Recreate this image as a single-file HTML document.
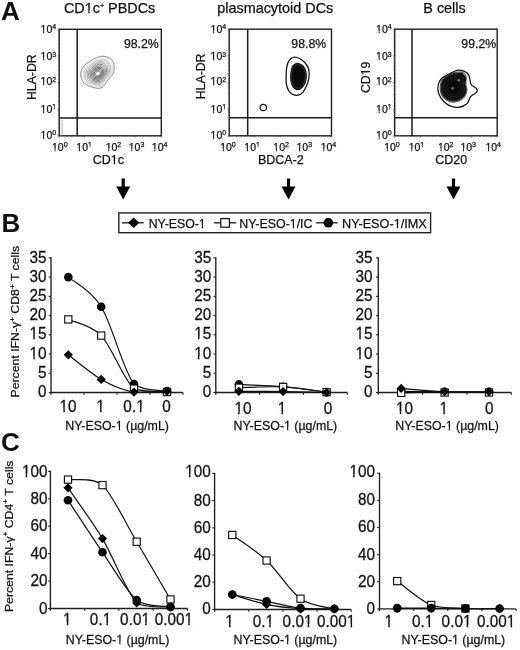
<!DOCTYPE html>
<html><head><meta charset="utf-8"><style>
html,body{margin:0;padding:0;background:#fff;width:520px;height:650px;overflow:hidden}
svg{display:block;filter:grayscale(1)}
text{font-family:"Liberation Sans", sans-serif;fill:#111;stroke:#111;stroke-width:0.25px}
</style></head><body>
<svg width="520" height="650" viewBox="0 0 520 650">
<text x="1.10" y="19.60" font-size="26" text-anchor="start" font-weight="bold" style="stroke:none">A</text>
<text x="1.40" y="231.50" font-size="26" text-anchor="start" font-weight="bold" style="stroke:none">B</text>
<text x="1.00" y="450.50" font-size="26" text-anchor="start" font-weight="bold" style="stroke:none">C</text>
<rect x="59.20" y="29.30" width="102.10" height="106.50" fill="none" stroke="#1e1e1e" stroke-width="1.4"></rect>
<line x1="77.20" y1="29.30" x2="77.20" y2="135.80" stroke="#1a1a1a" stroke-width="1.5"></line>
<line x1="59.20" y1="118.00" x2="161.30" y2="118.00" stroke="#1a1a1a" stroke-width="1.5"></line>
<g><text x="109.60" y="12.50" font-size="14.4" text-anchor="middle" font-weight="normal">CD1c<tspan font-size="7.2" dy="-4.4">+</tspan><tspan dy="4.4"> PBDCs</tspan></text><rect x="85.14" y="10.32" width="3.08" height="3.88" fill="#fff"></rect><rect x="89.69" y="10.32" width="2.96" height="3.88" fill="#fff"></rect></g>
<text x="158.80" y="47.50" font-size="12.3" text-anchor="end" font-weight="normal">98.2%</text>
<g><text x="56.20" y="138.50" font-size="10.5" text-anchor="end">10<tspan font-size="7" dy="-3.4">0</tspan></text><rect x="40.93" y="136.62" width="2.21" height="3.58" fill="#fff"></rect><rect x="44.28" y="136.62" width="2.13" height="3.58" fill="#fff"></rect></g>
<line x1="57.60" y1="135.80" x2="59.20" y2="135.80" stroke="#555" stroke-width="0.9"></line>
<g><text x="56.20" y="112.70" font-size="10.5" text-anchor="end">10<tspan font-size="7" dy="-3.4">1</tspan></text><rect x="40.93" y="110.82" width="2.21" height="3.58" fill="#fff"></rect><rect x="44.28" y="110.82" width="2.13" height="3.58" fill="#fff"></rect><rect x="52.51" y="107.68" width="1.45" height="3.32" fill="#fff"></rect><rect x="54.78" y="107.68" width="1.39" height="3.32" fill="#fff"></rect></g>
<line x1="57.60" y1="109.18" x2="59.20" y2="109.18" stroke="#555" stroke-width="0.9"></line>
<g><text x="56.20" y="85.10" font-size="10.5" text-anchor="end">10<tspan font-size="7" dy="-3.4">2</tspan></text><rect x="40.93" y="83.22" width="2.21" height="3.58" fill="#fff"></rect><rect x="44.28" y="83.22" width="2.13" height="3.58" fill="#fff"></rect></g>
<line x1="57.60" y1="82.55" x2="59.20" y2="82.55" stroke="#555" stroke-width="0.9"></line>
<g><text x="56.20" y="60.00" font-size="10.5" text-anchor="end">10<tspan font-size="7" dy="-3.4">3</tspan></text><rect x="40.93" y="58.12" width="2.21" height="3.58" fill="#fff"></rect><rect x="44.28" y="58.12" width="2.13" height="3.58" fill="#fff"></rect></g>
<line x1="57.60" y1="55.92" x2="59.20" y2="55.92" stroke="#555" stroke-width="0.9"></line>
<g><text x="56.20" y="32.70" font-size="10.5" text-anchor="end">10<tspan font-size="7" dy="-3.4">4</tspan></text><rect x="40.93" y="30.82" width="2.21" height="3.58" fill="#fff"></rect><rect x="44.28" y="30.82" width="2.13" height="3.58" fill="#fff"></rect></g>
<line x1="57.60" y1="29.30" x2="59.20" y2="29.30" stroke="#555" stroke-width="0.9"></line>
<g><text x="51.95" y="150.6" font-size="10.5">10<tspan font-size="7" dy="-3.4">0</tspan></text><rect x="52.28" y="148.72" width="2.21" height="3.58" fill="#fff"></rect><rect x="55.62" y="148.72" width="2.13" height="3.58" fill="#fff"></rect></g>
<line x1="59.20" y1="135.80" x2="59.20" y2="137.40" stroke="#555" stroke-width="0.9"></line>
<g><text x="76.35" y="150.6" font-size="10.5">10<tspan font-size="7" dy="-3.4">1</tspan></text><rect x="76.68" y="148.72" width="2.21" height="3.58" fill="#fff"></rect><rect x="80.02" y="148.72" width="2.13" height="3.58" fill="#fff"></rect><rect x="88.26" y="145.58" width="1.45" height="3.32" fill="#fff"></rect><rect x="90.52" y="145.58" width="1.39" height="3.32" fill="#fff"></rect></g>
<line x1="84.73" y1="135.80" x2="84.73" y2="137.40" stroke="#555" stroke-width="0.9"></line>
<g><text x="105.65" y="150.6" font-size="10.5">10<tspan font-size="7" dy="-3.4">2</tspan></text><rect x="105.98" y="148.72" width="2.21" height="3.58" fill="#fff"></rect><rect x="109.32" y="148.72" width="2.13" height="3.58" fill="#fff"></rect></g>
<line x1="110.25" y1="135.80" x2="110.25" y2="137.40" stroke="#555" stroke-width="0.9"></line>
<g><text x="128.75" y="150.6" font-size="10.5">10<tspan font-size="7" dy="-3.4">3</tspan></text><rect x="129.08" y="148.72" width="2.21" height="3.58" fill="#fff"></rect><rect x="132.42" y="148.72" width="2.13" height="3.58" fill="#fff"></rect></g>
<line x1="135.78" y1="135.80" x2="135.78" y2="137.40" stroke="#555" stroke-width="0.9"></line>
<g><text x="151.85" y="150.6" font-size="10.5">10<tspan font-size="7" dy="-3.4">4</tspan></text><rect x="152.18" y="148.72" width="2.21" height="3.58" fill="#fff"></rect><rect x="155.52" y="148.72" width="2.13" height="3.58" fill="#fff"></rect></g>
<line x1="161.30" y1="135.80" x2="161.30" y2="137.40" stroke="#555" stroke-width="0.9"></line>
<line x1="57.90" y1="127.79" x2="59.20" y2="127.79" stroke="#666" stroke-width="0.7"></line>
<line x1="66.88" y1="135.80" x2="66.88" y2="137.10" stroke="#666" stroke-width="0.7"></line>
<line x1="57.90" y1="123.10" x2="59.20" y2="123.10" stroke="#666" stroke-width="0.7"></line>
<line x1="71.38" y1="135.80" x2="71.38" y2="137.10" stroke="#666" stroke-width="0.7"></line>
<line x1="57.90" y1="119.77" x2="59.20" y2="119.77" stroke="#666" stroke-width="0.7"></line>
<line x1="74.57" y1="135.80" x2="74.57" y2="137.10" stroke="#666" stroke-width="0.7"></line>
<line x1="57.90" y1="117.19" x2="59.20" y2="117.19" stroke="#666" stroke-width="0.7"></line>
<line x1="77.04" y1="135.80" x2="77.04" y2="137.10" stroke="#666" stroke-width="0.7"></line>
<line x1="57.90" y1="115.08" x2="59.20" y2="115.08" stroke="#666" stroke-width="0.7"></line>
<line x1="79.06" y1="135.80" x2="79.06" y2="137.10" stroke="#666" stroke-width="0.7"></line>
<line x1="57.90" y1="113.30" x2="59.20" y2="113.30" stroke="#666" stroke-width="0.7"></line>
<line x1="80.77" y1="135.80" x2="80.77" y2="137.10" stroke="#666" stroke-width="0.7"></line>
<line x1="57.90" y1="111.76" x2="59.20" y2="111.76" stroke="#666" stroke-width="0.7"></line>
<line x1="82.25" y1="135.80" x2="82.25" y2="137.10" stroke="#666" stroke-width="0.7"></line>
<line x1="57.90" y1="110.39" x2="59.20" y2="110.39" stroke="#666" stroke-width="0.7"></line>
<line x1="83.56" y1="135.80" x2="83.56" y2="137.10" stroke="#666" stroke-width="0.7"></line>
<line x1="57.90" y1="101.16" x2="59.20" y2="101.16" stroke="#666" stroke-width="0.7"></line>
<line x1="92.41" y1="135.80" x2="92.41" y2="137.10" stroke="#666" stroke-width="0.7"></line>
<line x1="57.90" y1="96.47" x2="59.20" y2="96.47" stroke="#666" stroke-width="0.7"></line>
<line x1="96.90" y1="135.80" x2="96.90" y2="137.10" stroke="#666" stroke-width="0.7"></line>
<line x1="57.90" y1="93.15" x2="59.20" y2="93.15" stroke="#666" stroke-width="0.7"></line>
<line x1="100.09" y1="135.80" x2="100.09" y2="137.10" stroke="#666" stroke-width="0.7"></line>
<line x1="57.90" y1="90.56" x2="59.20" y2="90.56" stroke="#666" stroke-width="0.7"></line>
<line x1="102.57" y1="135.80" x2="102.57" y2="137.10" stroke="#666" stroke-width="0.7"></line>
<line x1="57.90" y1="88.46" x2="59.20" y2="88.46" stroke="#666" stroke-width="0.7"></line>
<line x1="104.59" y1="135.80" x2="104.59" y2="137.10" stroke="#666" stroke-width="0.7"></line>
<line x1="57.90" y1="86.67" x2="59.20" y2="86.67" stroke="#666" stroke-width="0.7"></line>
<line x1="106.30" y1="135.80" x2="106.30" y2="137.10" stroke="#666" stroke-width="0.7"></line>
<line x1="57.90" y1="85.13" x2="59.20" y2="85.13" stroke="#666" stroke-width="0.7"></line>
<line x1="107.78" y1="135.80" x2="107.78" y2="137.10" stroke="#666" stroke-width="0.7"></line>
<line x1="57.90" y1="83.77" x2="59.20" y2="83.77" stroke="#666" stroke-width="0.7"></line>
<line x1="109.08" y1="135.80" x2="109.08" y2="137.10" stroke="#666" stroke-width="0.7"></line>
<line x1="57.90" y1="74.54" x2="59.20" y2="74.54" stroke="#666" stroke-width="0.7"></line>
<line x1="117.93" y1="135.80" x2="117.93" y2="137.10" stroke="#666" stroke-width="0.7"></line>
<line x1="57.90" y1="69.85" x2="59.20" y2="69.85" stroke="#666" stroke-width="0.7"></line>
<line x1="122.43" y1="135.80" x2="122.43" y2="137.10" stroke="#666" stroke-width="0.7"></line>
<line x1="57.90" y1="66.52" x2="59.20" y2="66.52" stroke="#666" stroke-width="0.7"></line>
<line x1="125.62" y1="135.80" x2="125.62" y2="137.10" stroke="#666" stroke-width="0.7"></line>
<line x1="57.90" y1="63.94" x2="59.20" y2="63.94" stroke="#666" stroke-width="0.7"></line>
<line x1="128.09" y1="135.80" x2="128.09" y2="137.10" stroke="#666" stroke-width="0.7"></line>
<line x1="57.90" y1="61.83" x2="59.20" y2="61.83" stroke="#666" stroke-width="0.7"></line>
<line x1="130.11" y1="135.80" x2="130.11" y2="137.10" stroke="#666" stroke-width="0.7"></line>
<line x1="57.90" y1="60.05" x2="59.20" y2="60.05" stroke="#666" stroke-width="0.7"></line>
<line x1="131.82" y1="135.80" x2="131.82" y2="137.10" stroke="#666" stroke-width="0.7"></line>
<line x1="57.90" y1="58.51" x2="59.20" y2="58.51" stroke="#666" stroke-width="0.7"></line>
<line x1="133.30" y1="135.80" x2="133.30" y2="137.10" stroke="#666" stroke-width="0.7"></line>
<line x1="57.90" y1="57.14" x2="59.20" y2="57.14" stroke="#666" stroke-width="0.7"></line>
<line x1="134.61" y1="135.80" x2="134.61" y2="137.10" stroke="#666" stroke-width="0.7"></line>
<line x1="57.90" y1="47.91" x2="59.20" y2="47.91" stroke="#666" stroke-width="0.7"></line>
<line x1="143.46" y1="135.80" x2="143.46" y2="137.10" stroke="#666" stroke-width="0.7"></line>
<line x1="57.90" y1="43.22" x2="59.20" y2="43.22" stroke="#666" stroke-width="0.7"></line>
<line x1="147.95" y1="135.80" x2="147.95" y2="137.10" stroke="#666" stroke-width="0.7"></line>
<line x1="57.90" y1="39.90" x2="59.20" y2="39.90" stroke="#666" stroke-width="0.7"></line>
<line x1="151.14" y1="135.80" x2="151.14" y2="137.10" stroke="#666" stroke-width="0.7"></line>
<line x1="57.90" y1="37.31" x2="59.20" y2="37.31" stroke="#666" stroke-width="0.7"></line>
<line x1="153.62" y1="135.80" x2="153.62" y2="137.10" stroke="#666" stroke-width="0.7"></line>
<line x1="57.90" y1="35.21" x2="59.20" y2="35.21" stroke="#666" stroke-width="0.7"></line>
<line x1="155.64" y1="135.80" x2="155.64" y2="137.10" stroke="#666" stroke-width="0.7"></line>
<line x1="57.90" y1="33.42" x2="59.20" y2="33.42" stroke="#666" stroke-width="0.7"></line>
<line x1="157.35" y1="135.80" x2="157.35" y2="137.10" stroke="#666" stroke-width="0.7"></line>
<line x1="57.90" y1="31.88" x2="59.20" y2="31.88" stroke="#666" stroke-width="0.7"></line>
<line x1="158.83" y1="135.80" x2="158.83" y2="137.10" stroke="#666" stroke-width="0.7"></line>
<line x1="57.90" y1="30.52" x2="59.20" y2="30.52" stroke="#666" stroke-width="0.7"></line>
<line x1="160.13" y1="135.80" x2="160.13" y2="137.10" stroke="#666" stroke-width="0.7"></line>
<text transform="translate(36.40,77.20) rotate(-90)" font-size="12.3" text-anchor="middle">HLA-DR</text>
<g><text x="108.30" y="163.80" font-size="12.5" text-anchor="middle" font-weight="normal">CD1c</text><rect x="111.10" y="161.76" width="2.66" height="3.74" fill="#fff"></rect><rect x="115.07" y="161.76" width="2.56" height="3.74" fill="#fff"></rect></g>
<rect x="229.20" y="29.20" width="102.30" height="106.60" fill="none" stroke="#1e1e1e" stroke-width="1.4"></rect>
<line x1="247.70" y1="29.20" x2="247.70" y2="135.80" stroke="#1a1a1a" stroke-width="1.5"></line>
<line x1="229.20" y1="117.80" x2="331.50" y2="117.80" stroke="#1a1a1a" stroke-width="1.5"></line>
<text x="275.25" y="12.50" font-size="14.4" text-anchor="middle" font-weight="normal">plasmacytoid DCs</text>
<text x="326.20" y="47.50" font-size="12.3" text-anchor="end" font-weight="normal">98.8%</text>
<g><text x="226.20" y="138.50" font-size="10.5" text-anchor="end">10<tspan font-size="7" dy="-3.4">0</tspan></text><rect x="210.93" y="136.62" width="2.21" height="3.58" fill="#fff"></rect><rect x="214.28" y="136.62" width="2.13" height="3.58" fill="#fff"></rect></g>
<line x1="227.60" y1="135.80" x2="229.20" y2="135.80" stroke="#555" stroke-width="0.9"></line>
<g><text x="226.20" y="112.70" font-size="10.5" text-anchor="end">10<tspan font-size="7" dy="-3.4">1</tspan></text><rect x="210.93" y="110.82" width="2.21" height="3.58" fill="#fff"></rect><rect x="214.28" y="110.82" width="2.13" height="3.58" fill="#fff"></rect><rect x="222.51" y="107.68" width="1.45" height="3.32" fill="#fff"></rect><rect x="224.78" y="107.68" width="1.39" height="3.32" fill="#fff"></rect></g>
<line x1="227.60" y1="109.15" x2="229.20" y2="109.15" stroke="#555" stroke-width="0.9"></line>
<g><text x="226.20" y="85.10" font-size="10.5" text-anchor="end">10<tspan font-size="7" dy="-3.4">2</tspan></text><rect x="210.93" y="83.22" width="2.21" height="3.58" fill="#fff"></rect><rect x="214.28" y="83.22" width="2.13" height="3.58" fill="#fff"></rect></g>
<line x1="227.60" y1="82.50" x2="229.20" y2="82.50" stroke="#555" stroke-width="0.9"></line>
<g><text x="226.20" y="60.00" font-size="10.5" text-anchor="end">10<tspan font-size="7" dy="-3.4">3</tspan></text><rect x="210.93" y="58.12" width="2.21" height="3.58" fill="#fff"></rect><rect x="214.28" y="58.12" width="2.13" height="3.58" fill="#fff"></rect></g>
<line x1="227.60" y1="55.85" x2="229.20" y2="55.85" stroke="#555" stroke-width="0.9"></line>
<g><text x="226.20" y="32.70" font-size="10.5" text-anchor="end">10<tspan font-size="7" dy="-3.4">4</tspan></text><rect x="210.93" y="30.82" width="2.21" height="3.58" fill="#fff"></rect><rect x="214.28" y="30.82" width="2.13" height="3.58" fill="#fff"></rect></g>
<line x1="227.60" y1="29.20" x2="229.20" y2="29.20" stroke="#555" stroke-width="0.9"></line>
<g><text x="220.15" y="150.6" font-size="10.5">10<tspan font-size="7" dy="-3.4">0</tspan></text><rect x="220.48" y="148.72" width="2.21" height="3.58" fill="#fff"></rect><rect x="223.82" y="148.72" width="2.13" height="3.58" fill="#fff"></rect></g>
<line x1="229.20" y1="135.80" x2="229.20" y2="137.40" stroke="#555" stroke-width="0.9"></line>
<g><text x="244.35" y="150.6" font-size="10.5">10<tspan font-size="7" dy="-3.4">1</tspan></text><rect x="244.68" y="148.72" width="2.21" height="3.58" fill="#fff"></rect><rect x="248.02" y="148.72" width="2.13" height="3.58" fill="#fff"></rect><rect x="256.26" y="145.58" width="1.45" height="3.32" fill="#fff"></rect><rect x="258.52" y="145.58" width="1.39" height="3.32" fill="#fff"></rect></g>
<line x1="254.77" y1="135.80" x2="254.77" y2="137.40" stroke="#555" stroke-width="0.9"></line>
<g><text x="273.35" y="150.6" font-size="10.5">10<tspan font-size="7" dy="-3.4">2</tspan></text><rect x="273.68" y="148.72" width="2.21" height="3.58" fill="#fff"></rect><rect x="277.02" y="148.72" width="2.13" height="3.58" fill="#fff"></rect></g>
<line x1="280.35" y1="135.80" x2="280.35" y2="137.40" stroke="#555" stroke-width="0.9"></line>
<g><text x="296.45" y="150.6" font-size="10.5">10<tspan font-size="7" dy="-3.4">3</tspan></text><rect x="296.78" y="148.72" width="2.21" height="3.58" fill="#fff"></rect><rect x="300.12" y="148.72" width="2.13" height="3.58" fill="#fff"></rect></g>
<line x1="305.93" y1="135.80" x2="305.93" y2="137.40" stroke="#555" stroke-width="0.9"></line>
<g><text x="320.65" y="150.6" font-size="10.5">10<tspan font-size="7" dy="-3.4">4</tspan></text><rect x="320.98" y="148.72" width="2.21" height="3.58" fill="#fff"></rect><rect x="324.32" y="148.72" width="2.13" height="3.58" fill="#fff"></rect></g>
<line x1="331.50" y1="135.80" x2="331.50" y2="137.40" stroke="#555" stroke-width="0.9"></line>
<line x1="227.90" y1="127.78" x2="229.20" y2="127.78" stroke="#666" stroke-width="0.7"></line>
<line x1="236.90" y1="135.80" x2="236.90" y2="137.10" stroke="#666" stroke-width="0.7"></line>
<line x1="227.90" y1="123.08" x2="229.20" y2="123.08" stroke="#666" stroke-width="0.7"></line>
<line x1="241.40" y1="135.80" x2="241.40" y2="137.10" stroke="#666" stroke-width="0.7"></line>
<line x1="227.90" y1="119.76" x2="229.20" y2="119.76" stroke="#666" stroke-width="0.7"></line>
<line x1="244.60" y1="135.80" x2="244.60" y2="137.10" stroke="#666" stroke-width="0.7"></line>
<line x1="227.90" y1="117.17" x2="229.20" y2="117.17" stroke="#666" stroke-width="0.7"></line>
<line x1="247.08" y1="135.80" x2="247.08" y2="137.10" stroke="#666" stroke-width="0.7"></line>
<line x1="227.90" y1="115.06" x2="229.20" y2="115.06" stroke="#666" stroke-width="0.7"></line>
<line x1="249.10" y1="135.80" x2="249.10" y2="137.10" stroke="#666" stroke-width="0.7"></line>
<line x1="227.90" y1="113.28" x2="229.20" y2="113.28" stroke="#666" stroke-width="0.7"></line>
<line x1="250.81" y1="135.80" x2="250.81" y2="137.10" stroke="#666" stroke-width="0.7"></line>
<line x1="227.90" y1="111.73" x2="229.20" y2="111.73" stroke="#666" stroke-width="0.7"></line>
<line x1="252.30" y1="135.80" x2="252.30" y2="137.10" stroke="#666" stroke-width="0.7"></line>
<line x1="227.90" y1="110.37" x2="229.20" y2="110.37" stroke="#666" stroke-width="0.7"></line>
<line x1="253.60" y1="135.80" x2="253.60" y2="137.10" stroke="#666" stroke-width="0.7"></line>
<line x1="227.90" y1="101.13" x2="229.20" y2="101.13" stroke="#666" stroke-width="0.7"></line>
<line x1="262.47" y1="135.80" x2="262.47" y2="137.10" stroke="#666" stroke-width="0.7"></line>
<line x1="227.90" y1="96.43" x2="229.20" y2="96.43" stroke="#666" stroke-width="0.7"></line>
<line x1="266.98" y1="135.80" x2="266.98" y2="137.10" stroke="#666" stroke-width="0.7"></line>
<line x1="227.90" y1="93.11" x2="229.20" y2="93.11" stroke="#666" stroke-width="0.7"></line>
<line x1="270.17" y1="135.80" x2="270.17" y2="137.10" stroke="#666" stroke-width="0.7"></line>
<line x1="227.90" y1="90.52" x2="229.20" y2="90.52" stroke="#666" stroke-width="0.7"></line>
<line x1="272.65" y1="135.80" x2="272.65" y2="137.10" stroke="#666" stroke-width="0.7"></line>
<line x1="227.90" y1="88.41" x2="229.20" y2="88.41" stroke="#666" stroke-width="0.7"></line>
<line x1="274.68" y1="135.80" x2="274.68" y2="137.10" stroke="#666" stroke-width="0.7"></line>
<line x1="227.90" y1="86.63" x2="229.20" y2="86.63" stroke="#666" stroke-width="0.7"></line>
<line x1="276.39" y1="135.80" x2="276.39" y2="137.10" stroke="#666" stroke-width="0.7"></line>
<line x1="227.90" y1="85.08" x2="229.20" y2="85.08" stroke="#666" stroke-width="0.7"></line>
<line x1="277.87" y1="135.80" x2="277.87" y2="137.10" stroke="#666" stroke-width="0.7"></line>
<line x1="227.90" y1="83.72" x2="229.20" y2="83.72" stroke="#666" stroke-width="0.7"></line>
<line x1="279.18" y1="135.80" x2="279.18" y2="137.10" stroke="#666" stroke-width="0.7"></line>
<line x1="227.90" y1="74.48" x2="229.20" y2="74.48" stroke="#666" stroke-width="0.7"></line>
<line x1="288.05" y1="135.80" x2="288.05" y2="137.10" stroke="#666" stroke-width="0.7"></line>
<line x1="227.90" y1="69.78" x2="229.20" y2="69.78" stroke="#666" stroke-width="0.7"></line>
<line x1="292.55" y1="135.80" x2="292.55" y2="137.10" stroke="#666" stroke-width="0.7"></line>
<line x1="227.90" y1="66.46" x2="229.20" y2="66.46" stroke="#666" stroke-width="0.7"></line>
<line x1="295.75" y1="135.80" x2="295.75" y2="137.10" stroke="#666" stroke-width="0.7"></line>
<line x1="227.90" y1="63.87" x2="229.20" y2="63.87" stroke="#666" stroke-width="0.7"></line>
<line x1="298.23" y1="135.80" x2="298.23" y2="137.10" stroke="#666" stroke-width="0.7"></line>
<line x1="227.90" y1="61.76" x2="229.20" y2="61.76" stroke="#666" stroke-width="0.7"></line>
<line x1="300.25" y1="135.80" x2="300.25" y2="137.10" stroke="#666" stroke-width="0.7"></line>
<line x1="227.90" y1="59.98" x2="229.20" y2="59.98" stroke="#666" stroke-width="0.7"></line>
<line x1="301.96" y1="135.80" x2="301.96" y2="137.10" stroke="#666" stroke-width="0.7"></line>
<line x1="227.90" y1="58.43" x2="229.20" y2="58.43" stroke="#666" stroke-width="0.7"></line>
<line x1="303.45" y1="135.80" x2="303.45" y2="137.10" stroke="#666" stroke-width="0.7"></line>
<line x1="227.90" y1="57.07" x2="229.20" y2="57.07" stroke="#666" stroke-width="0.7"></line>
<line x1="304.75" y1="135.80" x2="304.75" y2="137.10" stroke="#666" stroke-width="0.7"></line>
<line x1="227.90" y1="47.83" x2="229.20" y2="47.83" stroke="#666" stroke-width="0.7"></line>
<line x1="313.62" y1="135.80" x2="313.62" y2="137.10" stroke="#666" stroke-width="0.7"></line>
<line x1="227.90" y1="43.13" x2="229.20" y2="43.13" stroke="#666" stroke-width="0.7"></line>
<line x1="318.13" y1="135.80" x2="318.13" y2="137.10" stroke="#666" stroke-width="0.7"></line>
<line x1="227.90" y1="39.81" x2="229.20" y2="39.81" stroke="#666" stroke-width="0.7"></line>
<line x1="321.32" y1="135.80" x2="321.32" y2="137.10" stroke="#666" stroke-width="0.7"></line>
<line x1="227.90" y1="37.22" x2="229.20" y2="37.22" stroke="#666" stroke-width="0.7"></line>
<line x1="323.80" y1="135.80" x2="323.80" y2="137.10" stroke="#666" stroke-width="0.7"></line>
<line x1="227.90" y1="35.11" x2="229.20" y2="35.11" stroke="#666" stroke-width="0.7"></line>
<line x1="325.83" y1="135.80" x2="325.83" y2="137.10" stroke="#666" stroke-width="0.7"></line>
<line x1="227.90" y1="33.33" x2="229.20" y2="33.33" stroke="#666" stroke-width="0.7"></line>
<line x1="327.54" y1="135.80" x2="327.54" y2="137.10" stroke="#666" stroke-width="0.7"></line>
<line x1="227.90" y1="31.78" x2="229.20" y2="31.78" stroke="#666" stroke-width="0.7"></line>
<line x1="329.02" y1="135.80" x2="329.02" y2="137.10" stroke="#666" stroke-width="0.7"></line>
<line x1="227.90" y1="30.42" x2="229.20" y2="30.42" stroke="#666" stroke-width="0.7"></line>
<line x1="330.33" y1="135.80" x2="330.33" y2="137.10" stroke="#666" stroke-width="0.7"></line>
<text transform="translate(204.70,76.40) rotate(-90)" font-size="12.3" text-anchor="middle">HLA-DR</text>
<text x="280.80" y="163.80" font-size="12.5" text-anchor="middle" font-weight="normal">BDCA-2</text>
<rect x="394.70" y="29.20" width="102.50" height="106.60" fill="none" stroke="#1e1e1e" stroke-width="1.4"></rect>
<line x1="412.00" y1="29.20" x2="412.00" y2="135.80" stroke="#1a1a1a" stroke-width="1.5"></line>
<line x1="394.70" y1="117.80" x2="497.20" y2="117.80" stroke="#1a1a1a" stroke-width="1.5"></line>
<text x="444.50" y="12.50" font-size="14.4" text-anchor="middle" font-weight="normal">B cells</text>
<text x="496.20" y="47.50" font-size="12.3" text-anchor="end" font-weight="normal">99.2%</text>
<g><text x="391.70" y="138.50" font-size="10.5" text-anchor="end">10<tspan font-size="7" dy="-3.4">0</tspan></text><rect x="376.43" y="136.62" width="2.21" height="3.58" fill="#fff"></rect><rect x="379.78" y="136.62" width="2.13" height="3.58" fill="#fff"></rect></g>
<line x1="393.10" y1="135.80" x2="394.70" y2="135.80" stroke="#555" stroke-width="0.9"></line>
<g><text x="391.70" y="112.70" font-size="10.5" text-anchor="end">10<tspan font-size="7" dy="-3.4">1</tspan></text><rect x="376.43" y="110.82" width="2.21" height="3.58" fill="#fff"></rect><rect x="379.78" y="110.82" width="2.13" height="3.58" fill="#fff"></rect><rect x="388.01" y="107.68" width="1.45" height="3.32" fill="#fff"></rect><rect x="390.28" y="107.68" width="1.39" height="3.32" fill="#fff"></rect></g>
<line x1="393.10" y1="109.15" x2="394.70" y2="109.15" stroke="#555" stroke-width="0.9"></line>
<g><text x="391.70" y="85.10" font-size="10.5" text-anchor="end">10<tspan font-size="7" dy="-3.4">2</tspan></text><rect x="376.43" y="83.22" width="2.21" height="3.58" fill="#fff"></rect><rect x="379.78" y="83.22" width="2.13" height="3.58" fill="#fff"></rect></g>
<line x1="393.10" y1="82.50" x2="394.70" y2="82.50" stroke="#555" stroke-width="0.9"></line>
<g><text x="391.70" y="60.00" font-size="10.5" text-anchor="end">10<tspan font-size="7" dy="-3.4">3</tspan></text><rect x="376.43" y="58.12" width="2.21" height="3.58" fill="#fff"></rect><rect x="379.78" y="58.12" width="2.13" height="3.58" fill="#fff"></rect></g>
<line x1="393.10" y1="55.85" x2="394.70" y2="55.85" stroke="#555" stroke-width="0.9"></line>
<g><text x="391.70" y="32.70" font-size="10.5" text-anchor="end">10<tspan font-size="7" dy="-3.4">4</tspan></text><rect x="376.43" y="30.82" width="2.21" height="3.58" fill="#fff"></rect><rect x="379.78" y="30.82" width="2.13" height="3.58" fill="#fff"></rect></g>
<line x1="393.10" y1="29.20" x2="394.70" y2="29.20" stroke="#555" stroke-width="0.9"></line>
<g><text x="384.15" y="150.6" font-size="10.5">10<tspan font-size="7" dy="-3.4">0</tspan></text><rect x="384.48" y="148.72" width="2.21" height="3.58" fill="#fff"></rect><rect x="387.82" y="148.72" width="2.13" height="3.58" fill="#fff"></rect></g>
<line x1="394.70" y1="135.80" x2="394.70" y2="137.40" stroke="#555" stroke-width="0.9"></line>
<g><text x="408.65" y="150.6" font-size="10.5">10<tspan font-size="7" dy="-3.4">1</tspan></text><rect x="408.98" y="148.72" width="2.21" height="3.58" fill="#fff"></rect><rect x="412.32" y="148.72" width="2.13" height="3.58" fill="#fff"></rect><rect x="420.56" y="145.58" width="1.45" height="3.32" fill="#fff"></rect><rect x="422.82" y="145.58" width="1.39" height="3.32" fill="#fff"></rect></g>
<line x1="420.32" y1="135.80" x2="420.32" y2="137.40" stroke="#555" stroke-width="0.9"></line>
<g><text x="437.90" y="150.6" font-size="10.5">10<tspan font-size="7" dy="-3.4">2</tspan></text><rect x="438.23" y="148.72" width="2.21" height="3.58" fill="#fff"></rect><rect x="441.57" y="148.72" width="2.13" height="3.58" fill="#fff"></rect></g>
<line x1="445.95" y1="135.80" x2="445.95" y2="137.40" stroke="#555" stroke-width="0.9"></line>
<g><text x="460.40" y="150.6" font-size="10.5">10<tspan font-size="7" dy="-3.4">3</tspan></text><rect x="460.73" y="148.72" width="2.21" height="3.58" fill="#fff"></rect><rect x="464.07" y="148.72" width="2.13" height="3.58" fill="#fff"></rect></g>
<line x1="471.57" y1="135.80" x2="471.57" y2="137.40" stroke="#555" stroke-width="0.9"></line>
<g><text x="485.40" y="150.6" font-size="10.5">10<tspan font-size="7" dy="-3.4">4</tspan></text><rect x="485.73" y="148.72" width="2.21" height="3.58" fill="#fff"></rect><rect x="489.07" y="148.72" width="2.13" height="3.58" fill="#fff"></rect></g>
<line x1="497.20" y1="135.80" x2="497.20" y2="137.40" stroke="#555" stroke-width="0.9"></line>
<line x1="393.40" y1="127.78" x2="394.70" y2="127.78" stroke="#666" stroke-width="0.7"></line>
<line x1="402.41" y1="135.80" x2="402.41" y2="137.10" stroke="#666" stroke-width="0.7"></line>
<line x1="393.40" y1="123.08" x2="394.70" y2="123.08" stroke="#666" stroke-width="0.7"></line>
<line x1="406.93" y1="135.80" x2="406.93" y2="137.10" stroke="#666" stroke-width="0.7"></line>
<line x1="393.40" y1="119.76" x2="394.70" y2="119.76" stroke="#666" stroke-width="0.7"></line>
<line x1="410.13" y1="135.80" x2="410.13" y2="137.10" stroke="#666" stroke-width="0.7"></line>
<line x1="393.40" y1="117.17" x2="394.70" y2="117.17" stroke="#666" stroke-width="0.7"></line>
<line x1="412.61" y1="135.80" x2="412.61" y2="137.10" stroke="#666" stroke-width="0.7"></line>
<line x1="393.40" y1="115.06" x2="394.70" y2="115.06" stroke="#666" stroke-width="0.7"></line>
<line x1="414.64" y1="135.80" x2="414.64" y2="137.10" stroke="#666" stroke-width="0.7"></line>
<line x1="393.40" y1="113.28" x2="394.70" y2="113.28" stroke="#666" stroke-width="0.7"></line>
<line x1="416.36" y1="135.80" x2="416.36" y2="137.10" stroke="#666" stroke-width="0.7"></line>
<line x1="393.40" y1="111.73" x2="394.70" y2="111.73" stroke="#666" stroke-width="0.7"></line>
<line x1="417.84" y1="135.80" x2="417.84" y2="137.10" stroke="#666" stroke-width="0.7"></line>
<line x1="393.40" y1="110.37" x2="394.70" y2="110.37" stroke="#666" stroke-width="0.7"></line>
<line x1="419.15" y1="135.80" x2="419.15" y2="137.10" stroke="#666" stroke-width="0.7"></line>
<line x1="393.40" y1="101.13" x2="394.70" y2="101.13" stroke="#666" stroke-width="0.7"></line>
<line x1="428.04" y1="135.80" x2="428.04" y2="137.10" stroke="#666" stroke-width="0.7"></line>
<line x1="393.40" y1="96.43" x2="394.70" y2="96.43" stroke="#666" stroke-width="0.7"></line>
<line x1="432.55" y1="135.80" x2="432.55" y2="137.10" stroke="#666" stroke-width="0.7"></line>
<line x1="393.40" y1="93.11" x2="394.70" y2="93.11" stroke="#666" stroke-width="0.7"></line>
<line x1="435.75" y1="135.80" x2="435.75" y2="137.10" stroke="#666" stroke-width="0.7"></line>
<line x1="393.40" y1="90.52" x2="394.70" y2="90.52" stroke="#666" stroke-width="0.7"></line>
<line x1="438.24" y1="135.80" x2="438.24" y2="137.10" stroke="#666" stroke-width="0.7"></line>
<line x1="393.40" y1="88.41" x2="394.70" y2="88.41" stroke="#666" stroke-width="0.7"></line>
<line x1="440.27" y1="135.80" x2="440.27" y2="137.10" stroke="#666" stroke-width="0.7"></line>
<line x1="393.40" y1="86.63" x2="394.70" y2="86.63" stroke="#666" stroke-width="0.7"></line>
<line x1="441.98" y1="135.80" x2="441.98" y2="137.10" stroke="#666" stroke-width="0.7"></line>
<line x1="393.40" y1="85.08" x2="394.70" y2="85.08" stroke="#666" stroke-width="0.7"></line>
<line x1="443.47" y1="135.80" x2="443.47" y2="137.10" stroke="#666" stroke-width="0.7"></line>
<line x1="393.40" y1="83.72" x2="394.70" y2="83.72" stroke="#666" stroke-width="0.7"></line>
<line x1="444.78" y1="135.80" x2="444.78" y2="137.10" stroke="#666" stroke-width="0.7"></line>
<line x1="393.40" y1="74.48" x2="394.70" y2="74.48" stroke="#666" stroke-width="0.7"></line>
<line x1="453.66" y1="135.80" x2="453.66" y2="137.10" stroke="#666" stroke-width="0.7"></line>
<line x1="393.40" y1="69.78" x2="394.70" y2="69.78" stroke="#666" stroke-width="0.7"></line>
<line x1="458.18" y1="135.80" x2="458.18" y2="137.10" stroke="#666" stroke-width="0.7"></line>
<line x1="393.40" y1="66.46" x2="394.70" y2="66.46" stroke="#666" stroke-width="0.7"></line>
<line x1="461.38" y1="135.80" x2="461.38" y2="137.10" stroke="#666" stroke-width="0.7"></line>
<line x1="393.40" y1="63.87" x2="394.70" y2="63.87" stroke="#666" stroke-width="0.7"></line>
<line x1="463.86" y1="135.80" x2="463.86" y2="137.10" stroke="#666" stroke-width="0.7"></line>
<line x1="393.40" y1="61.76" x2="394.70" y2="61.76" stroke="#666" stroke-width="0.7"></line>
<line x1="465.89" y1="135.80" x2="465.89" y2="137.10" stroke="#666" stroke-width="0.7"></line>
<line x1="393.40" y1="59.98" x2="394.70" y2="59.98" stroke="#666" stroke-width="0.7"></line>
<line x1="467.61" y1="135.80" x2="467.61" y2="137.10" stroke="#666" stroke-width="0.7"></line>
<line x1="393.40" y1="58.43" x2="394.70" y2="58.43" stroke="#666" stroke-width="0.7"></line>
<line x1="469.09" y1="135.80" x2="469.09" y2="137.10" stroke="#666" stroke-width="0.7"></line>
<line x1="393.40" y1="57.07" x2="394.70" y2="57.07" stroke="#666" stroke-width="0.7"></line>
<line x1="470.40" y1="135.80" x2="470.40" y2="137.10" stroke="#666" stroke-width="0.7"></line>
<line x1="393.40" y1="47.83" x2="394.70" y2="47.83" stroke="#666" stroke-width="0.7"></line>
<line x1="479.29" y1="135.80" x2="479.29" y2="137.10" stroke="#666" stroke-width="0.7"></line>
<line x1="393.40" y1="43.13" x2="394.70" y2="43.13" stroke="#666" stroke-width="0.7"></line>
<line x1="483.80" y1="135.80" x2="483.80" y2="137.10" stroke="#666" stroke-width="0.7"></line>
<line x1="393.40" y1="39.81" x2="394.70" y2="39.81" stroke="#666" stroke-width="0.7"></line>
<line x1="487.00" y1="135.80" x2="487.00" y2="137.10" stroke="#666" stroke-width="0.7"></line>
<line x1="393.40" y1="37.22" x2="394.70" y2="37.22" stroke="#666" stroke-width="0.7"></line>
<line x1="489.49" y1="135.80" x2="489.49" y2="137.10" stroke="#666" stroke-width="0.7"></line>
<line x1="393.40" y1="35.11" x2="394.70" y2="35.11" stroke="#666" stroke-width="0.7"></line>
<line x1="491.52" y1="135.80" x2="491.52" y2="137.10" stroke="#666" stroke-width="0.7"></line>
<line x1="393.40" y1="33.33" x2="394.70" y2="33.33" stroke="#666" stroke-width="0.7"></line>
<line x1="493.23" y1="135.80" x2="493.23" y2="137.10" stroke="#666" stroke-width="0.7"></line>
<line x1="393.40" y1="31.78" x2="394.70" y2="31.78" stroke="#666" stroke-width="0.7"></line>
<line x1="494.72" y1="135.80" x2="494.72" y2="137.10" stroke="#666" stroke-width="0.7"></line>
<line x1="393.40" y1="30.42" x2="394.70" y2="30.42" stroke="#666" stroke-width="0.7"></line>
<line x1="496.03" y1="135.80" x2="496.03" y2="137.10" stroke="#666" stroke-width="0.7"></line>
<g transform="translate(370.40,77.30) rotate(-90)"><text font-size="12.3" text-anchor="middle">CD19</text><rect x="2.41" y="-2.02" width="2.62" height="3.72" fill="#fff"></rect><rect x="6.31" y="-2.02" width="2.52" height="3.72" fill="#fff"></rect></g>
<text x="451.20" y="163.80" font-size="12.5" text-anchor="middle" font-weight="normal">CD20</text>
<path d="M103.85,56.25 C105.52,56.35 107.29,56.86 108.65,57.50 C110.01,58.14 111.12,58.95 112.00,60.10 C112.88,61.25 113.53,62.88 113.90,64.40 C114.27,65.92 114.35,67.67 114.20,69.20 C114.05,70.73 113.68,72.23 113.00,73.60 C112.32,74.97 111.07,76.20 110.10,77.40 C109.13,78.60 108.08,79.60 107.20,80.80 C106.32,82.00 105.68,83.48 104.80,84.60 C103.92,85.72 103.10,86.88 101.90,87.50 C100.70,88.12 99.28,88.38 97.60,88.30 C95.92,88.22 93.65,87.58 91.80,87.00 C89.95,86.42 88.02,85.76 86.50,84.80 C84.98,83.84 83.65,82.72 82.70,81.25 C81.75,79.78 81.04,77.76 80.80,76.00 C80.56,74.24 80.70,72.38 81.25,70.70 C81.80,69.02 82.89,67.35 84.10,65.90 C85.31,64.45 86.97,63.13 88.50,62.00 C90.03,60.87 91.62,59.95 93.30,59.10 C94.98,58.25 96.84,57.38 98.60,56.90 C100.36,56.42 102.17,56.15 103.85,56.25Z" fill="none" stroke="#7c7c7c" stroke-width="0.9"></path>
<path d="M103.27,57.95 C104.77,58.03 106.36,58.49 107.59,59.07 C108.81,59.65 109.81,60.38 110.60,61.41 C111.39,62.45 111.98,63.91 112.31,65.28 C112.64,66.64 112.72,68.22 112.58,69.60 C112.44,70.98 112.11,72.33 111.50,73.56 C110.89,74.79 109.76,75.90 108.89,76.98 C108.02,78.06 107.08,78.96 106.28,80.04 C105.48,81.12 104.92,82.45 104.12,83.46 C103.33,84.46 102.59,85.51 101.51,86.07 C100.43,86.62 99.16,86.86 97.64,86.79 C96.12,86.71 94.09,86.15 92.42,85.62 C90.75,85.09 89.02,84.50 87.65,83.64 C86.29,82.78 85.09,81.76 84.23,80.44 C83.38,79.12 82.74,77.30 82.52,75.72 C82.30,74.14 82.43,72.47 82.92,70.95 C83.42,69.44 84.40,67.94 85.49,66.63 C86.58,65.33 88.07,64.14 89.45,63.12 C90.83,62.10 92.25,61.28 93.77,60.51 C95.28,59.75 96.96,58.96 98.54,58.53 C100.12,58.10 101.76,57.86 103.27,57.95Z" fill="none" stroke="#c4c4c4" stroke-width="0.6"></path>
<path d="M102.64,59.76 C103.98,59.84 105.39,60.25 106.48,60.76 C107.57,61.27 108.46,61.92 109.16,62.84 C109.86,63.76 110.39,65.07 110.68,66.28 C110.97,67.49 111.04,68.89 110.92,70.12 C110.80,71.35 110.51,72.55 109.96,73.64 C109.41,74.73 108.41,75.72 107.64,76.68 C106.87,77.64 106.03,78.44 105.32,79.40 C104.61,80.36 104.11,81.55 103.40,82.44 C102.69,83.33 102.04,84.27 101.08,84.76 C100.12,85.25 98.99,85.47 97.64,85.40 C96.29,85.33 94.48,84.83 93.00,84.36 C91.52,83.89 89.97,83.37 88.76,82.60 C87.55,81.83 86.48,80.93 85.72,79.76 C84.96,78.59 84.39,76.97 84.20,75.56 C84.01,74.15 84.12,72.67 84.56,71.32 C85.00,69.97 85.87,68.64 86.84,67.48 C87.81,66.32 89.13,65.27 90.36,64.36 C91.59,63.45 92.85,62.72 94.20,62.04 C95.55,61.36 97.03,60.66 98.44,60.28 C99.85,59.90 101.30,59.68 102.64,59.76Z" fill="none" stroke="#a0a0a0" stroke-width="0.7"></path>
<path d="M102.10,61.34 C103.28,61.41 104.54,61.77 105.50,62.23 C106.47,62.68 107.26,63.26 107.88,64.07 C108.50,64.89 108.97,66.05 109.23,67.13 C109.49,68.20 109.55,69.45 109.44,70.53 C109.34,71.62 109.08,72.69 108.59,73.66 C108.11,74.63 107.22,75.50 106.53,76.36 C105.85,77.21 105.10,77.92 104.47,78.77 C103.85,79.62 103.40,80.68 102.77,81.47 C102.14,82.26 101.56,83.09 100.71,83.53 C99.86,83.96 98.85,84.15 97.66,84.09 C96.46,84.04 94.85,83.59 93.54,83.17 C92.23,82.76 90.85,82.29 89.78,81.61 C88.70,80.93 87.75,80.13 87.08,79.09 C86.40,78.05 85.90,76.61 85.73,75.36 C85.56,74.11 85.66,72.79 86.05,71.60 C86.44,70.40 87.22,69.22 88.07,68.19 C88.93,67.16 90.11,66.23 91.20,65.42 C92.29,64.62 93.41,63.97 94.61,63.36 C95.80,62.76 97.12,62.14 98.37,61.80 C99.62,61.46 100.91,61.27 102.10,61.34Z" fill="none" stroke="#909090" stroke-width="0.75"></path>
<path d="M101.55,62.92 C102.59,62.98 103.68,63.30 104.53,63.69 C105.37,64.09 106.06,64.59 106.60,65.31 C107.15,66.02 107.55,67.03 107.78,67.97 C108.01,68.91 108.06,70.00 107.97,70.95 C107.88,71.90 107.65,72.83 107.22,73.68 C106.80,74.52 106.03,75.29 105.43,76.03 C104.83,76.78 104.18,77.40 103.63,78.14 C103.08,78.88 102.69,79.80 102.14,80.50 C101.59,81.19 101.09,81.91 100.34,82.29 C99.60,82.68 98.72,82.84 97.68,82.79 C96.63,82.74 95.23,82.35 94.08,81.98 C92.93,81.62 91.73,81.21 90.79,80.62 C89.85,80.03 89.03,79.33 88.44,78.42 C87.85,77.51 87.41,76.25 87.26,75.16 C87.11,74.07 87.20,72.92 87.54,71.88 C87.88,70.83 88.56,69.80 89.31,68.90 C90.06,68.00 91.08,67.19 92.03,66.48 C92.98,65.78 93.97,65.21 95.01,64.69 C96.05,64.16 97.21,63.62 98.30,63.32 C99.39,63.03 100.51,62.86 101.55,62.92Z" fill="none" stroke="#808080" stroke-width="0.8"></path>
<path d="M101.07,64.32 C101.97,64.38 102.93,64.65 103.66,65.00 C104.39,65.34 105.00,65.78 105.47,66.40 C105.94,67.02 106.30,67.91 106.49,68.72 C106.69,69.54 106.74,70.49 106.66,71.32 C106.58,72.14 106.38,72.95 106.01,73.69 C105.64,74.43 104.96,75.10 104.44,75.74 C103.92,76.39 103.35,76.93 102.88,77.58 C102.40,78.23 102.06,79.03 101.58,79.63 C101.10,80.23 100.66,80.86 100.01,81.20 C99.37,81.53 98.60,81.67 97.69,81.63 C96.78,81.58 95.56,81.24 94.56,80.93 C93.56,80.61 92.52,80.26 91.70,79.74 C90.88,79.22 90.16,78.61 89.65,77.82 C89.13,77.03 88.75,75.94 88.62,74.99 C88.49,74.04 88.57,73.03 88.86,72.13 C89.16,71.22 89.75,70.32 90.40,69.53 C91.05,68.75 91.95,68.04 92.78,67.43 C93.61,66.82 94.46,66.32 95.37,65.86 C96.28,65.40 97.28,64.93 98.23,64.67 C99.18,64.42 100.16,64.27 101.07,64.32Z" fill="none" stroke="#707070" stroke-width="0.85"></path>
<path d="M100.58,65.73 C101.35,65.77 102.17,66.01 102.79,66.30 C103.42,66.60 103.93,66.97 104.33,67.50 C104.73,68.03 105.04,68.78 105.21,69.48 C105.37,70.17 105.41,70.98 105.34,71.68 C105.27,72.39 105.11,73.08 104.79,73.71 C104.48,74.34 103.90,74.90 103.46,75.46 C103.01,76.01 102.53,76.47 102.12,77.02 C101.72,77.57 101.43,78.25 101.02,78.77 C100.61,79.28 100.24,79.82 99.69,80.10 C99.13,80.39 98.48,80.51 97.71,80.47 C96.93,80.43 95.89,80.14 95.04,79.87 C94.19,79.60 93.30,79.30 92.60,78.86 C91.90,78.42 91.29,77.90 90.85,77.23 C90.42,76.55 90.09,75.62 89.98,74.81 C89.87,74.00 89.93,73.15 90.19,72.37 C90.44,71.60 90.94,70.83 91.50,70.17 C92.05,69.50 92.82,68.89 93.52,68.37 C94.23,67.85 94.96,67.43 95.73,67.04 C96.50,66.65 97.36,66.24 98.17,66.03 C98.98,65.81 99.81,65.68 100.58,65.73Z" fill="none" stroke="#606060" stroke-width="0.9"></path>
<path d="M100.10,67.13 C100.74,67.17 101.41,67.36 101.92,67.61 C102.44,67.85 102.86,68.16 103.20,68.59 C103.53,69.03 103.78,69.65 103.92,70.23 C104.06,70.80 104.09,71.47 104.03,72.05 C103.97,72.63 103.84,73.20 103.58,73.72 C103.32,74.24 102.84,74.71 102.47,75.17 C102.11,75.62 101.71,76.00 101.37,76.46 C101.04,76.92 100.80,77.48 100.46,77.90 C100.12,78.33 99.81,78.77 99.36,79.01 C98.90,79.24 98.36,79.34 97.72,79.31 C97.08,79.28 96.22,79.04 95.52,78.82 C94.82,78.59 94.08,78.34 93.51,77.98 C92.93,77.62 92.42,77.19 92.06,76.63 C91.70,76.07 91.43,75.30 91.34,74.64 C91.25,73.97 91.30,73.26 91.51,72.62 C91.72,71.98 92.13,71.35 92.59,70.80 C93.05,70.25 93.68,69.75 94.27,69.32 C94.85,68.89 95.45,68.54 96.09,68.21 C96.73,67.89 97.44,67.56 98.10,67.38 C98.77,67.20 99.46,67.09 100.10,67.13Z" fill="none" stroke="#505050" stroke-width="0.95"></path>
<path d="M99.61,68.53 C100.12,68.56 100.65,68.72 101.06,68.91 C101.46,69.10 101.80,69.34 102.06,69.69 C102.32,70.03 102.52,70.53 102.63,70.98 C102.74,71.44 102.77,71.96 102.72,72.42 C102.67,72.88 102.56,73.33 102.36,73.74 C102.16,74.15 101.78,74.52 101.49,74.88 C101.20,75.24 100.89,75.54 100.62,75.90 C100.36,76.26 100.16,76.70 99.90,77.04 C99.63,77.38 99.39,77.72 99.03,77.91 C98.67,78.09 98.24,78.17 97.74,78.15 C97.23,78.12 96.56,77.93 96.00,77.76 C95.44,77.58 94.86,77.39 94.41,77.10 C93.95,76.81 93.55,76.47 93.27,76.03 C92.98,75.59 92.77,74.99 92.70,74.46 C92.63,73.93 92.67,73.38 92.83,72.87 C93.00,72.37 93.33,71.87 93.69,71.43 C94.05,71.00 94.55,70.60 95.01,70.26 C95.47,69.92 95.95,69.64 96.45,69.39 C96.95,69.14 97.51,68.87 98.04,68.73 C98.57,68.59 99.11,68.50 99.61,68.53Z" fill="none" stroke="#484848" stroke-width="1.0"></path>
<path d="M99.13,69.94 C99.50,69.96 99.89,70.07 100.19,70.21 C100.49,70.36 100.73,70.53 100.92,70.79 C101.12,71.04 101.26,71.40 101.34,71.73 C101.42,72.07 101.44,72.45 101.41,72.79 C101.38,73.13 101.29,73.46 101.14,73.76 C100.99,74.06 100.72,74.33 100.51,74.59 C100.29,74.86 100.06,75.08 99.87,75.34 C99.67,75.60 99.53,75.93 99.34,76.18 C99.15,76.42 98.97,76.68 98.70,76.81 C98.44,76.95 98.13,77.01 97.76,76.99 C97.39,76.97 96.89,76.83 96.48,76.70 C96.07,76.58 95.65,76.43 95.31,76.22 C94.98,76.01 94.69,75.76 94.48,75.44 C94.27,75.12 94.11,74.67 94.06,74.28 C94.01,73.90 94.04,73.49 94.16,73.12 C94.28,72.75 94.52,72.38 94.79,72.06 C95.05,71.74 95.42,71.45 95.75,71.20 C96.09,70.95 96.44,70.75 96.81,70.57 C97.18,70.38 97.59,70.19 97.98,70.08 C98.36,69.98 98.76,69.92 99.13,69.94Z" fill="none" stroke="#4a4a4a" stroke-width="1.0"></path>
<path d="M98.65,71.34 C98.88,71.36 99.13,71.43 99.32,71.52 C99.51,71.61 99.67,71.72 99.79,71.88 C99.91,72.04 100.00,72.27 100.05,72.48 C100.11,72.70 100.12,72.94 100.10,73.16 C100.08,73.37 100.02,73.58 99.93,73.77 C99.83,73.96 99.66,74.14 99.52,74.30 C99.39,74.47 99.24,74.61 99.12,74.78 C98.99,74.95 98.90,75.16 98.78,75.31 C98.66,75.47 98.54,75.63 98.37,75.72 C98.21,75.80 98.01,75.84 97.77,75.83 C97.54,75.82 97.22,75.73 96.96,75.65 C96.70,75.57 96.43,75.47 96.22,75.34 C96.01,75.21 95.82,75.05 95.69,74.84 C95.55,74.64 95.45,74.35 95.42,74.11 C95.39,73.86 95.41,73.60 95.48,73.37 C95.56,73.13 95.71,72.90 95.88,72.69 C96.05,72.49 96.28,72.31 96.50,72.15 C96.71,71.99 96.93,71.86 97.17,71.74 C97.41,71.62 97.67,71.50 97.91,71.43 C98.16,71.37 98.41,71.33 98.65,71.34Z" fill="none" stroke="#606060" stroke-width="0.9"></path>
<ellipse cx="98.2" cy="73.39999999999999" rx="1.3" ry="0.9" transform="rotate(-32 97.8 73.8)" fill="#f0f0f0"></ellipse>
<rect x="60.3" y="119.8" width="2.4" height="15.4" fill="#ececec"></rect>
<line x1="62.20" y1="120.00" x2="62.20" y2="135.00" stroke="#aaa" stroke-width="0.7"></line>
<path d="M294.70,57.20 C296.22,57.20 298.32,57.82 300.00,58.70 C301.68,59.58 303.43,60.98 304.80,62.50 C306.17,64.02 307.48,66.03 308.20,67.80 C308.92,69.57 309.02,71.27 309.10,73.10 C309.18,74.93 309.10,76.72 308.70,78.80 C308.30,80.88 307.67,83.35 306.70,85.60 C305.73,87.85 304.33,90.70 302.90,92.30 C301.47,93.90 299.87,94.88 298.10,95.20 C296.33,95.52 293.90,95.00 292.30,94.20 C290.70,93.40 289.50,92.15 288.50,90.40 C287.50,88.65 286.70,85.95 286.30,83.70 C285.90,81.45 286.07,79.32 286.10,76.90 C286.13,74.48 286.18,71.60 286.50,69.20 C286.82,66.80 287.27,64.25 288.00,62.50 C288.73,60.75 289.78,59.58 290.90,58.70 C292.02,57.82 293.18,57.20 294.70,57.20Z" fill="none" stroke="#111" stroke-width="1.25"></path>
<path d="M298.10,63.50 C299.38,63.83 301.62,64.62 302.90,65.90 C304.18,67.18 305.24,69.20 305.80,71.20 C306.36,73.20 306.50,75.67 306.25,77.90 C306.00,80.13 305.26,82.77 304.30,84.60 C303.34,86.43 301.85,88.10 300.50,88.90 C299.15,89.70 297.48,89.80 296.20,89.40 C294.92,89.00 293.68,87.93 292.80,86.50 C291.92,85.07 291.22,83.03 290.90,80.80 C290.58,78.57 290.67,75.43 290.90,73.10 C291.13,70.77 291.58,68.33 292.30,66.80 C293.02,65.27 294.23,64.45 295.20,63.90 C296.17,63.35 296.82,63.17 298.10,63.50Z" fill="#0a0a0a" stroke="#111" stroke-width="1.1"></path>
<path d="M298.12,65.06 C299.25,65.35 301.22,66.04 302.35,67.17 C303.48,68.30 304.41,70.08 304.90,71.84 C305.39,73.60 305.52,75.77 305.30,77.73 C305.08,79.70 304.42,82.01 303.58,83.63 C302.74,85.24 301.42,86.71 300.24,87.41 C299.05,88.12 297.58,88.20 296.45,87.85 C295.32,87.50 294.24,86.56 293.46,85.30 C292.68,84.04 292.07,82.25 291.79,80.28 C291.51,78.32 291.58,75.56 291.79,73.51 C291.99,71.45 292.39,69.31 293.02,67.96 C293.65,66.61 294.72,65.90 295.57,65.41 C296.42,64.93 296.99,64.77 298.12,65.06Z" fill="none" stroke="#555" stroke-width="0.6"></path>
<circle cx="263.3" cy="107.5" r="3.2" fill="none" stroke="#111" stroke-width="1.2"></circle>
<path d="M458.80,70.20 C460.73,70.30 464.07,71.10 465.80,72.10 C467.53,73.10 468.33,74.18 469.20,76.20 C470.07,78.22 469.83,82.18 471.00,84.20 C472.17,86.22 475.15,87.13 476.20,88.30 C477.25,89.47 477.50,90.33 477.30,91.20 C477.10,92.07 476.15,92.55 475.00,93.50 C473.85,94.45 471.75,95.18 470.40,96.90 C469.05,98.62 468.83,102.07 466.90,103.80 C464.97,105.53 461.48,106.90 458.80,107.30 C456.12,107.70 453.30,107.17 450.80,106.20 C448.30,105.23 445.82,103.62 443.80,101.50 C441.78,99.38 439.65,96.18 438.70,93.50 C437.75,90.82 437.63,87.90 438.10,85.40 C438.57,82.90 439.77,80.33 441.50,78.50 C443.23,76.67 446.38,75.57 448.50,74.40 C450.62,73.23 452.48,72.20 454.20,71.50 C455.92,70.80 456.87,70.10 458.80,70.20Z" fill="none" stroke="#111" stroke-width="1.25"></path>
<path d="M457.70,72.10 C459.43,72.07 462.07,71.83 463.50,72.70 C464.93,73.57 465.92,75.38 466.30,77.30 C466.68,79.22 465.70,82.08 465.80,84.20 C465.90,86.32 467.10,87.88 466.90,90.00 C466.70,92.12 465.95,95.07 464.60,96.90 C463.25,98.73 460.92,100.13 458.80,101.00 C456.68,101.87 454.20,102.40 451.90,102.10 C449.60,101.80 446.82,100.63 445.00,99.20 C443.18,97.77 441.77,95.80 441.00,93.50 C440.23,91.20 440.12,87.82 440.40,85.40 C440.68,82.98 441.35,80.73 442.70,79.00 C444.05,77.27 446.77,76.02 448.50,75.00 C450.23,73.98 451.57,73.38 453.10,72.90 C454.63,72.42 455.97,72.13 457.70,72.10Z" fill="none" stroke="#222" stroke-width="0.9"></path>
<path d="M457.44,73.14 C459.05,73.11 461.50,72.90 462.83,73.70 C464.17,74.51 465.08,76.20 465.44,77.98 C465.80,79.76 464.88,82.43 464.97,84.40 C465.07,86.36 466.18,87.82 466.00,89.79 C465.81,91.76 465.11,94.50 463.86,96.21 C462.60,97.91 460.43,99.21 458.46,100.02 C456.50,100.83 454.19,101.32 452.05,101.04 C449.91,100.76 447.32,99.68 445.63,98.35 C443.94,97.01 442.62,95.18 441.91,93.05 C441.20,90.91 441.09,87.76 441.35,85.51 C441.62,83.26 442.24,81.17 443.49,79.56 C444.75,77.95 447.27,76.79 448.88,75.84 C450.50,74.89 451.74,74.34 453.16,73.89 C454.59,73.44 455.83,73.17 457.44,73.14Z" fill="#0a0a0a" stroke="#111" stroke-width="1.0"></path>
<path d="M456.96,75.08 C458.35,75.05 460.45,74.87 461.60,75.56 C462.75,76.25 463.53,77.71 463.84,79.24 C464.15,80.77 463.36,83.07 463.44,84.76 C463.52,86.45 464.48,87.71 464.32,89.40 C464.16,91.09 463.56,93.45 462.48,94.92 C461.40,96.39 459.53,97.51 457.84,98.20 C456.15,98.89 454.16,99.32 452.32,99.08 C450.48,98.84 448.25,97.91 446.80,96.76 C445.35,95.61 444.21,94.04 443.60,92.20 C442.99,90.36 442.89,87.65 443.12,85.72 C443.35,83.79 443.88,81.99 444.96,80.60 C446.04,79.21 448.21,78.21 449.60,77.40 C450.99,76.59 452.05,76.11 453.28,75.72 C454.51,75.33 455.57,75.11 456.96,75.08Z" fill="none" stroke="#3a3a3a" stroke-width="0.5"></path>
<path d="M456.40,77.31 C457.53,77.29 459.24,77.14 460.18,77.70 C461.11,78.27 461.75,79.45 462.00,80.69 C462.24,81.94 461.61,83.80 461.67,85.18 C461.74,86.56 462.51,87.57 462.38,88.95 C462.25,90.33 461.77,92.24 460.89,93.44 C460.01,94.63 458.50,95.54 457.12,96.10 C455.74,96.66 454.13,97.01 452.63,96.81 C451.14,96.62 449.33,95.86 448.15,94.93 C446.97,94.00 446.05,92.72 445.55,91.22 C445.05,89.73 444.98,87.53 445.16,85.96 C445.34,84.39 445.78,82.93 446.65,81.80 C447.53,80.67 449.30,79.86 450.43,79.20 C451.55,78.54 452.42,78.15 453.42,77.84 C454.41,77.52 455.28,77.34 456.40,77.31Z" fill="none" stroke="#333" stroke-width="0.5"></path>
<path d="M455.85,79.55 C456.72,79.53 458.03,79.42 458.75,79.85 C459.47,80.28 459.96,81.19 460.15,82.15 C460.34,83.11 459.85,84.54 459.90,85.60 C459.95,86.66 460.55,87.44 460.45,88.50 C460.35,89.56 459.98,91.03 459.30,91.95 C458.62,92.87 457.46,93.57 456.40,94.00 C455.34,94.43 454.10,94.70 452.95,94.55 C451.80,94.40 450.41,93.82 449.50,93.10 C448.59,92.38 447.88,91.40 447.50,90.25 C447.12,89.10 447.06,87.41 447.20,86.20 C447.34,84.99 447.68,83.87 448.35,83.00 C449.03,82.13 450.38,81.51 451.25,81.00 C452.12,80.49 452.78,80.19 453.55,79.95 C454.32,79.71 454.98,79.57 455.85,79.55Z" fill="none" stroke="#2a2a2a" stroke-width="0.5"></path>
<circle cx="458.8" cy="80.2" r="1.3" fill="#888"></circle><circle cx="452.5" cy="88.3" r="1.3" fill="#777"></circle>
<rect x="121.60" y="178.5" width="3.2" height="9" fill="#000"></rect>
<polygon points="116.20,186.5 130.20,186.5 123.20,199.6" fill="#000"></polygon>
<rect x="286.90" y="178.5" width="3.2" height="9" fill="#000"></rect>
<polygon points="281.50,186.5 295.50,186.5 288.50,199.6" fill="#000"></polygon>
<rect x="451.90" y="178.5" width="3.2" height="9" fill="#000"></rect>
<polygon points="446.50,186.5 460.50,186.5 453.50,199.6" fill="#000"></polygon>
<rect x="118.8" y="212.9" width="311.8" height="19.8" fill="none" stroke="#222" stroke-width="1.4"></rect>
<line x1="122.00" y1="222.80" x2="143.70" y2="222.80" stroke="#1e1e1e" stroke-width="1.35"></line>
<polygon points="133.7,217.6 139.3,222.8 133.7,228.0 128.1,222.8" fill="#000"></polygon>
<g><text x="148.72" y="227.80" font-size="12.3" text-anchor="start" font-weight="normal">NY-ESO-1</text><rect x="199.21" y="225.78" width="2.61" height="3.72" fill="#fff"></rect><rect x="203.11" y="225.78" width="2.51" height="3.72" fill="#fff"></rect></g>
<line x1="214.20" y1="222.80" x2="236.20" y2="222.80" stroke="#1e1e1e" stroke-width="1.35"></line>
<rect x="220.8" y="218.6" width="8.6" height="8.6" fill="#fff" stroke="#111" stroke-width="1.2"></rect>
<g><text x="239.31" y="227.80" font-size="12.4" text-anchor="start" font-weight="normal">NY-ESO-1/IC</text><rect x="290.18" y="225.77" width="2.64" height="3.73" fill="#fff"></rect><rect x="294.11" y="225.77" width="2.54" height="3.73" fill="#fff"></rect></g>
<line x1="316.20" y1="222.80" x2="337.70" y2="222.80" stroke="#1e1e1e" stroke-width="1.35"></line>
<circle cx="328.3" cy="222.8" r="4.8" fill="#000"></circle>
<g><text x="341.98" y="227.80" font-size="12.7" text-anchor="start" font-weight="normal">NY-ESO-1/IMX</text><rect x="394.06" y="225.75" width="2.70" height="3.75" fill="#fff"></rect><rect x="398.09" y="225.75" width="2.60" height="3.75" fill="#fff"></rect></g>
<line x1="51.00" y1="257.30" x2="51.00" y2="394.70" stroke="#1e1e1e" stroke-width="1.35"></line>
<line x1="50.40" y1="392.50" x2="183.00" y2="392.50" stroke="#1e1e1e" stroke-width="1.3"></line>
<line x1="48.70" y1="392.50" x2="51.00" y2="392.50" stroke="#1e1e1e" stroke-width="1.1"></line>
<text transform="translate(46.60,397.10) scale(1,1.1)" font-size="15.3" text-anchor="end">0</text>
<line x1="48.70" y1="373.27" x2="51.00" y2="373.27" stroke="#1e1e1e" stroke-width="1.1"></line>
<text transform="translate(46.60,377.87) scale(1,1.1)" font-size="15.3" text-anchor="end">5</text>
<line x1="48.70" y1="354.04" x2="51.00" y2="354.04" stroke="#1e1e1e" stroke-width="1.1"></line>
<g transform="translate(46.60,358.64) scale(1,1.1)"><text font-size="15.3" text-anchor="end">10</text><rect x="-16.54" y="-2.24" width="3.27" height="3.94" fill="#fff"></rect><rect x="-11.71" y="-2.24" width="3.15" height="3.94" fill="#fff"></rect></g>
<line x1="48.70" y1="334.81" x2="51.00" y2="334.81" stroke="#1e1e1e" stroke-width="1.1"></line>
<g transform="translate(46.60,339.41) scale(1,1.1)"><text font-size="15.3" text-anchor="end">15</text><rect x="-16.54" y="-2.24" width="3.27" height="3.94" fill="#fff"></rect><rect x="-11.71" y="-2.24" width="3.15" height="3.94" fill="#fff"></rect></g>
<line x1="48.70" y1="315.59" x2="51.00" y2="315.59" stroke="#1e1e1e" stroke-width="1.1"></line>
<text transform="translate(46.60,320.19) scale(1,1.1)" font-size="15.3" text-anchor="end">20</text>
<line x1="48.70" y1="296.36" x2="51.00" y2="296.36" stroke="#1e1e1e" stroke-width="1.1"></line>
<text transform="translate(46.60,300.96) scale(1,1.1)" font-size="15.3" text-anchor="end">25</text>
<line x1="48.70" y1="277.13" x2="51.00" y2="277.13" stroke="#1e1e1e" stroke-width="1.1"></line>
<text transform="translate(46.60,281.73) scale(1,1.1)" font-size="15.3" text-anchor="end">30</text>
<line x1="48.70" y1="257.90" x2="51.00" y2="257.90" stroke="#1e1e1e" stroke-width="1.1"></line>
<text transform="translate(46.60,262.50) scale(1,1.1)" font-size="15.3" text-anchor="end">35</text>
<line x1="84.00" y1="392.50" x2="84.00" y2="394.70" stroke="#1e1e1e" stroke-width="1.1"></line>
<line x1="117.00" y1="392.50" x2="117.00" y2="394.70" stroke="#1e1e1e" stroke-width="1.1"></line>
<line x1="150.00" y1="392.50" x2="150.00" y2="394.70" stroke="#1e1e1e" stroke-width="1.1"></line>
<line x1="183.00" y1="392.50" x2="183.00" y2="394.70" stroke="#1e1e1e" stroke-width="1.1"></line>
<g transform="translate(68.10,412.00) scale(1,1.1)"><text font-size="15.3" text-anchor="middle">10</text><rect x="-8.03" y="-2.24" width="3.27" height="3.94" fill="#fff"></rect><rect x="-3.21" y="-2.24" width="3.15" height="3.94" fill="#fff"></rect></g>
<g transform="translate(100.60,412.00) scale(1,1.1)"><text font-size="15.3" text-anchor="middle">1</text><rect x="-3.78" y="-2.24" width="3.27" height="3.94" fill="#fff"></rect><rect x="1.05" y="-2.24" width="3.15" height="3.94" fill="#fff"></rect></g>
<g transform="translate(134.00,412.00) scale(1,1.1)"><text font-size="15.3" text-anchor="middle">0.1</text><rect x="2.60" y="-2.24" width="3.27" height="3.94" fill="#fff"></rect><rect x="7.42" y="-2.24" width="3.15" height="3.94" fill="#fff"></rect></g>
<text transform="translate(166.60,412.00) scale(1,1.1)" font-size="15.3" text-anchor="middle">0</text>
<path d="M68.30,277.13 C73.78,282.06 90.25,288.92 101.20,306.74 C112.15,324.56 123.03,370.00 134.00,384.04 C144.97,392.30 161.50,389.81 167.00,390.96" fill="none" stroke="#111" stroke-width="1.2"></path>
<circle cx="68.30" cy="277.13" r="4.3" fill="#000"></circle>
<circle cx="101.20" cy="306.74" r="4.3" fill="#000"></circle>
<circle cx="134.00" cy="384.04" r="4.3" fill="#000"></circle>
<circle cx="167.00" cy="390.96" r="4.3" fill="#000"></circle>
<path d="M68.30,319.43 C73.78,322.12 90.25,324.05 101.20,335.58 C112.15,347.12 123.03,379.23 134.00,388.65 C144.97,392.30 161.50,391.54 167.00,392.12" fill="none" stroke="#111" stroke-width="1.2"></path>
<rect x="64.70" y="315.83" width="7.2" height="7.2" fill="#fff" stroke="#111" stroke-width="1.15"></rect>
<rect x="97.60" y="331.98" width="7.2" height="7.2" fill="#fff" stroke="#111" stroke-width="1.15"></rect>
<rect x="130.40" y="385.05" width="7.2" height="7.2" fill="#fff" stroke="#111" stroke-width="1.15"></rect>
<rect x="163.40" y="388.52" width="7.2" height="7.2" fill="#fff" stroke="#111" stroke-width="1.15"></rect>
<path d="M68.30,354.81 C73.78,358.91 90.25,373.21 101.20,379.42 C112.15,385.64 123.03,390.13 134.00,392.12 C144.97,392.30 161.50,391.47 167.00,391.35" fill="none" stroke="#111" stroke-width="1.2"></path>
<polygon points="68.30,350.21 72.90,354.81 68.30,359.41 63.70,354.81" fill="#000"></polygon>
<polygon points="101.20,374.82 105.80,379.42 101.20,384.02 96.60,379.42" fill="#000"></polygon>
<polygon points="134.00,387.52 138.60,392.12 134.00,396.72 129.40,392.12" fill="#000"></polygon>
<polygon points="167.00,386.75 171.60,391.35 167.00,395.95 162.40,391.35" fill="#000"></polygon>
<g transform="translate(117.10,429.50) scale(1,1.1)"><text font-size="12.4" text-anchor="middle">NY-ESO-1 (µg/mL)</text><rect x="-1.01" y="-2.03" width="2.63" height="3.73" fill="#fff"></rect><rect x="2.92" y="-2.03" width="2.54" height="3.73" fill="#fff"></rect></g>
<line x1="215.80" y1="257.30" x2="215.80" y2="394.70" stroke="#1e1e1e" stroke-width="1.35"></line>
<line x1="215.20" y1="392.50" x2="347.30" y2="392.50" stroke="#1e1e1e" stroke-width="1.3"></line>
<line x1="213.50" y1="392.50" x2="215.80" y2="392.50" stroke="#1e1e1e" stroke-width="1.1"></line>
<text transform="translate(211.20,397.10) scale(1,1.1)" font-size="15.3" text-anchor="end">0</text>
<line x1="213.50" y1="373.27" x2="215.80" y2="373.27" stroke="#1e1e1e" stroke-width="1.1"></line>
<text transform="translate(211.20,377.87) scale(1,1.1)" font-size="15.3" text-anchor="end">5</text>
<line x1="213.50" y1="354.04" x2="215.80" y2="354.04" stroke="#1e1e1e" stroke-width="1.1"></line>
<g transform="translate(211.20,358.64) scale(1,1.1)"><text font-size="15.3" text-anchor="end">10</text><rect x="-16.54" y="-2.24" width="3.27" height="3.94" fill="#fff"></rect><rect x="-11.71" y="-2.24" width="3.15" height="3.94" fill="#fff"></rect></g>
<line x1="213.50" y1="334.81" x2="215.80" y2="334.81" stroke="#1e1e1e" stroke-width="1.1"></line>
<g transform="translate(211.20,339.41) scale(1,1.1)"><text font-size="15.3" text-anchor="end">15</text><rect x="-16.54" y="-2.24" width="3.27" height="3.94" fill="#fff"></rect><rect x="-11.71" y="-2.24" width="3.15" height="3.94" fill="#fff"></rect></g>
<line x1="213.50" y1="315.59" x2="215.80" y2="315.59" stroke="#1e1e1e" stroke-width="1.1"></line>
<text transform="translate(211.20,320.19) scale(1,1.1)" font-size="15.3" text-anchor="end">20</text>
<line x1="213.50" y1="296.36" x2="215.80" y2="296.36" stroke="#1e1e1e" stroke-width="1.1"></line>
<text transform="translate(211.20,300.96) scale(1,1.1)" font-size="15.3" text-anchor="end">25</text>
<line x1="213.50" y1="277.13" x2="215.80" y2="277.13" stroke="#1e1e1e" stroke-width="1.1"></line>
<text transform="translate(211.20,281.73) scale(1,1.1)" font-size="15.3" text-anchor="end">30</text>
<line x1="213.50" y1="257.90" x2="215.80" y2="257.90" stroke="#1e1e1e" stroke-width="1.1"></line>
<text transform="translate(211.20,262.50) scale(1,1.1)" font-size="15.3" text-anchor="end">35</text>
<line x1="259.63" y1="392.50" x2="259.63" y2="394.70" stroke="#1e1e1e" stroke-width="1.1"></line>
<line x1="303.47" y1="392.50" x2="303.47" y2="394.70" stroke="#1e1e1e" stroke-width="1.1"></line>
<line x1="347.30" y1="392.50" x2="347.30" y2="394.70" stroke="#1e1e1e" stroke-width="1.1"></line>
<g transform="translate(242.90,414.00) scale(1,1.1)"><text font-size="15.3" text-anchor="middle">10</text><rect x="-8.03" y="-2.24" width="3.27" height="3.94" fill="#fff"></rect><rect x="-3.21" y="-2.24" width="3.15" height="3.94" fill="#fff"></rect></g>
<g transform="translate(282.00,414.00) scale(1,1.1)"><text font-size="15.3" text-anchor="middle">1</text><rect x="-3.78" y="-2.24" width="3.27" height="3.94" fill="#fff"></rect><rect x="1.05" y="-2.24" width="3.15" height="3.94" fill="#fff"></rect></g>
<text transform="translate(327.90,414.00) scale(1,1.1)" font-size="15.3" text-anchor="middle">0</text>
<path d="M238.90,384.42 C246.27,384.81 268.48,385.45 283.10,386.73 C297.72,388.01 319.35,391.22 326.60,392.12" fill="none" stroke="#111" stroke-width="1.2"></path>
<circle cx="238.90" cy="384.42" r="4.3" fill="#000"></circle>
<circle cx="283.10" cy="386.73" r="4.3" fill="#000"></circle>
<circle cx="326.60" cy="392.12" r="4.3" fill="#000"></circle>
<path d="M238.90,387.69 C246.27,387.56 268.48,386.19 283.10,386.92 C297.72,387.66 319.35,391.25 326.60,392.12" fill="none" stroke="#111" stroke-width="1.2"></path>
<rect x="235.30" y="384.09" width="7.2" height="7.2" fill="#fff" stroke="#111" stroke-width="1.15"></rect>
<rect x="279.50" y="383.32" width="7.2" height="7.2" fill="#fff" stroke="#111" stroke-width="1.15"></rect>
<rect x="323.00" y="388.52" width="7.2" height="7.2" fill="#fff" stroke="#111" stroke-width="1.15"></rect>
<path d="M238.90,391.35 C246.27,391.38 268.48,391.38 283.10,391.54 C297.72,391.70 319.35,392.18 326.60,392.31" fill="none" stroke="#111" stroke-width="1.2"></path>
<polygon points="238.90,386.75 243.50,391.35 238.90,395.95 234.30,391.35" fill="#000"></polygon>
<polygon points="283.10,386.94 287.70,391.54 283.10,396.14 278.50,391.54" fill="#000"></polygon>
<polygon points="326.60,387.71 331.20,392.31 326.60,396.91 322.00,392.31" fill="#000"></polygon>
<g transform="translate(285.40,429.50) scale(1,1.1)"><text font-size="12.4" text-anchor="middle">NY-ESO-1 (µg/mL)</text><rect x="-1.01" y="-2.03" width="2.63" height="3.73" fill="#fff"></rect><rect x="2.92" y="-2.03" width="2.54" height="3.73" fill="#fff"></rect></g>
<line x1="378.30" y1="257.30" x2="378.30" y2="394.70" stroke="#1e1e1e" stroke-width="1.35"></line>
<line x1="377.70" y1="392.50" x2="511.30" y2="392.50" stroke="#1e1e1e" stroke-width="1.3"></line>
<line x1="376.00" y1="392.50" x2="378.30" y2="392.50" stroke="#1e1e1e" stroke-width="1.1"></line>
<text transform="translate(372.50,397.10) scale(1,1.1)" font-size="15.3" text-anchor="end">0</text>
<line x1="376.00" y1="373.27" x2="378.30" y2="373.27" stroke="#1e1e1e" stroke-width="1.1"></line>
<text transform="translate(372.50,377.87) scale(1,1.1)" font-size="15.3" text-anchor="end">5</text>
<line x1="376.00" y1="354.04" x2="378.30" y2="354.04" stroke="#1e1e1e" stroke-width="1.1"></line>
<g transform="translate(372.50,358.64) scale(1,1.1)"><text font-size="15.3" text-anchor="end">10</text><rect x="-16.54" y="-2.24" width="3.27" height="3.94" fill="#fff"></rect><rect x="-11.71" y="-2.24" width="3.15" height="3.94" fill="#fff"></rect></g>
<line x1="376.00" y1="334.81" x2="378.30" y2="334.81" stroke="#1e1e1e" stroke-width="1.1"></line>
<g transform="translate(372.50,339.41) scale(1,1.1)"><text font-size="15.3" text-anchor="end">15</text><rect x="-16.54" y="-2.24" width="3.27" height="3.94" fill="#fff"></rect><rect x="-11.71" y="-2.24" width="3.15" height="3.94" fill="#fff"></rect></g>
<line x1="376.00" y1="315.59" x2="378.30" y2="315.59" stroke="#1e1e1e" stroke-width="1.1"></line>
<text transform="translate(372.50,320.19) scale(1,1.1)" font-size="15.3" text-anchor="end">20</text>
<line x1="376.00" y1="296.36" x2="378.30" y2="296.36" stroke="#1e1e1e" stroke-width="1.1"></line>
<text transform="translate(372.50,300.96) scale(1,1.1)" font-size="15.3" text-anchor="end">25</text>
<line x1="376.00" y1="277.13" x2="378.30" y2="277.13" stroke="#1e1e1e" stroke-width="1.1"></line>
<text transform="translate(372.50,281.73) scale(1,1.1)" font-size="15.3" text-anchor="end">30</text>
<line x1="376.00" y1="257.90" x2="378.30" y2="257.90" stroke="#1e1e1e" stroke-width="1.1"></line>
<text transform="translate(372.50,262.50) scale(1,1.1)" font-size="15.3" text-anchor="end">35</text>
<line x1="422.63" y1="392.50" x2="422.63" y2="394.70" stroke="#1e1e1e" stroke-width="1.1"></line>
<line x1="466.97" y1="392.50" x2="466.97" y2="394.70" stroke="#1e1e1e" stroke-width="1.1"></line>
<line x1="511.30" y1="392.50" x2="511.30" y2="394.70" stroke="#1e1e1e" stroke-width="1.1"></line>
<g transform="translate(404.50,414.00) scale(1,1.1)"><text font-size="15.3" text-anchor="middle">10</text><rect x="-8.03" y="-2.24" width="3.27" height="3.94" fill="#fff"></rect><rect x="-3.21" y="-2.24" width="3.15" height="3.94" fill="#fff"></rect></g>
<g transform="translate(443.80,414.00) scale(1,1.1)"><text font-size="15.3" text-anchor="middle">1</text><rect x="-3.78" y="-2.24" width="3.27" height="3.94" fill="#fff"></rect><rect x="1.05" y="-2.24" width="3.15" height="3.94" fill="#fff"></rect></g>
<text transform="translate(489.30,414.00) scale(1,1.1)" font-size="15.3" text-anchor="middle">0</text>
<path d="M401.20,391.35 C408.43,391.41 429.97,391.67 444.60,391.73 C459.23,391.79 481.60,391.73 489.00,391.73" fill="none" stroke="#111" stroke-width="1.2"></path>
<circle cx="401.20" cy="391.35" r="4.3" fill="#000"></circle>
<circle cx="444.60" cy="391.73" r="4.3" fill="#000"></circle>
<circle cx="489.00" cy="391.73" r="4.3" fill="#000"></circle>
<path d="M401.20,392.88 C408.43,392.30 429.97,392.30 444.60,392.50 C459.23,392.30 481.60,392.30 489.00,392.50" fill="none" stroke="#111" stroke-width="1.2"></path>
<rect x="397.60" y="389.28" width="7.2" height="7.2" fill="#fff" stroke="#111" stroke-width="1.15"></rect>
<rect x="441.00" y="388.90" width="7.2" height="7.2" fill="#fff" stroke="#111" stroke-width="1.15"></rect>
<rect x="485.40" y="388.90" width="7.2" height="7.2" fill="#fff" stroke="#111" stroke-width="1.15"></rect>
<path d="M401.20,388.46 C408.43,389.01 429.97,391.19 444.60,391.73 C459.23,392.28 481.60,391.73 489.00,391.73" fill="none" stroke="#111" stroke-width="1.2"></path>
<polygon points="401.20,383.86 405.80,388.46 401.20,393.06 396.60,388.46" fill="#000"></polygon>
<polygon points="444.60,387.13 449.20,391.73 444.60,396.33 440.00,391.73" fill="#000"></polygon>
<polygon points="489.00,387.13 493.60,391.73 489.00,396.33 484.40,391.73" fill="#000"></polygon>
<g transform="translate(447.10,429.50) scale(1,1.1)"><text font-size="12.4" text-anchor="middle">NY-ESO-1 (µg/mL)</text><rect x="-1.01" y="-2.03" width="2.63" height="3.73" fill="#fff"></rect><rect x="2.92" y="-2.03" width="2.54" height="3.73" fill="#fff"></rect></g>
<line x1="50.40" y1="470.80" x2="50.40" y2="610.70" stroke="#1e1e1e" stroke-width="1.35"></line>
<line x1="49.80" y1="608.50" x2="187.40" y2="608.50" stroke="#1e1e1e" stroke-width="1.3"></line>
<line x1="48.10" y1="608.50" x2="50.40" y2="608.50" stroke="#1e1e1e" stroke-width="1.1"></line>
<text transform="translate(47.40,613.70) scale(1,1.1)" font-size="15.3" text-anchor="end">0</text>
<line x1="48.10" y1="581.08" x2="50.40" y2="581.08" stroke="#1e1e1e" stroke-width="1.1"></line>
<text transform="translate(47.40,586.28) scale(1,1.1)" font-size="15.3" text-anchor="end">20</text>
<line x1="48.10" y1="553.66" x2="50.40" y2="553.66" stroke="#1e1e1e" stroke-width="1.1"></line>
<text transform="translate(47.40,558.86) scale(1,1.1)" font-size="15.3" text-anchor="end">40</text>
<line x1="48.10" y1="526.24" x2="50.40" y2="526.24" stroke="#1e1e1e" stroke-width="1.1"></line>
<text transform="translate(47.40,531.44) scale(1,1.1)" font-size="15.3" text-anchor="end">60</text>
<line x1="48.10" y1="498.82" x2="50.40" y2="498.82" stroke="#1e1e1e" stroke-width="1.1"></line>
<text transform="translate(47.40,504.02) scale(1,1.1)" font-size="15.3" text-anchor="end">80</text>
<line x1="48.10" y1="471.40" x2="50.40" y2="471.40" stroke="#1e1e1e" stroke-width="1.1"></line>
<g transform="translate(47.40,476.60) scale(1,1.1)"><text font-size="15.3" text-anchor="end">100</text><rect x="-25.04" y="-2.24" width="3.27" height="3.94" fill="#fff"></rect><rect x="-20.22" y="-2.24" width="3.15" height="3.94" fill="#fff"></rect></g>
<line x1="84.65" y1="608.50" x2="84.65" y2="610.70" stroke="#1e1e1e" stroke-width="1.1"></line>
<line x1="118.90" y1="608.50" x2="118.90" y2="610.70" stroke="#1e1e1e" stroke-width="1.1"></line>
<line x1="153.15" y1="608.50" x2="153.15" y2="610.70" stroke="#1e1e1e" stroke-width="1.1"></line>
<line x1="187.40" y1="608.50" x2="187.40" y2="610.70" stroke="#1e1e1e" stroke-width="1.1"></line>
<g transform="translate(67.30,625.00) scale(1,1.1)"><text font-size="15.3" text-anchor="middle">1</text><rect x="-3.78" y="-2.24" width="3.27" height="3.94" fill="#fff"></rect><rect x="1.05" y="-2.24" width="3.15" height="3.94" fill="#fff"></rect></g>
<g transform="translate(100.50,625.00) scale(1,1.1)"><text font-size="15.3" text-anchor="middle">0.1</text><rect x="2.60" y="-2.24" width="3.27" height="3.94" fill="#fff"></rect><rect x="7.42" y="-2.24" width="3.15" height="3.94" fill="#fff"></rect></g>
<g transform="translate(135.00,625.00) scale(1,1.1)"><text font-size="15.3" text-anchor="middle">0.01</text><rect x="6.85" y="-2.24" width="3.27" height="3.94" fill="#fff"></rect><rect x="11.67" y="-2.24" width="3.15" height="3.94" fill="#fff"></rect></g>
<g transform="translate(173.80,625.00) scale(1,1.1)"><text font-size="15.3" text-anchor="middle">0.001</text><rect x="11.09" y="-2.25" width="3.28" height="3.95" fill="#fff"></rect><rect x="15.93" y="-2.25" width="3.16" height="3.95" fill="#fff"></rect></g>
<path d="M68.00,479.63 C72.60,480.36 93.34,476.83 102.50,485.11 C111.66,493.39 127.63,526.49 136.70,541.73 C145.77,556.98 165.99,591.76 170.50,599.45" fill="none" stroke="#111" stroke-width="1.2"></path>
<rect x="64.40" y="476.03" width="7.2" height="7.2" fill="#fff" stroke="#111" stroke-width="1.15"></rect>
<rect x="98.90" y="481.51" width="7.2" height="7.2" fill="#fff" stroke="#111" stroke-width="1.15"></rect>
<rect x="133.10" y="538.13" width="7.2" height="7.2" fill="#fff" stroke="#111" stroke-width="1.15"></rect>
<rect x="166.90" y="595.85" width="7.2" height="7.2" fill="#fff" stroke="#111" stroke-width="1.15"></rect>
<path d="M68.00,487.85 C72.60,494.62 93.34,523.22 102.50,538.58 C111.66,553.93 127.63,593.88 136.70,603.02 C145.77,608.30 165.99,606.58 170.50,607.13" fill="none" stroke="#111" stroke-width="1.2"></path>
<polygon points="68.00,483.25 72.60,487.85 68.00,492.45 63.40,487.85" fill="#000"></polygon>
<polygon points="102.50,533.98 107.10,538.58 102.50,543.18 97.90,538.58" fill="#000"></polygon>
<polygon points="136.70,598.42 141.30,603.02 136.70,607.62 132.10,603.02" fill="#000"></polygon>
<polygon points="170.50,602.53 175.10,607.13 170.50,611.73 165.90,607.13" fill="#000"></polygon>
<path d="M68.00,500.19 C72.60,507.14 93.34,538.98 102.50,552.29 C111.66,565.60 127.63,592.72 136.70,600.00 C145.77,607.28 165.99,605.94 170.50,606.85" fill="none" stroke="#111" stroke-width="1.2"></path>
<circle cx="68.00" cy="500.19" r="4.3" fill="#000"></circle>
<circle cx="102.50" cy="552.29" r="4.3" fill="#000"></circle>
<circle cx="136.70" cy="600.00" r="4.3" fill="#000"></circle>
<circle cx="170.50" cy="606.85" r="4.3" fill="#000"></circle>
<g transform="translate(117.60,643.90) scale(1,1.1)"><text font-size="12.4" text-anchor="middle">NY-ESO-1 (µg/mL)</text><rect x="-1.01" y="-2.03" width="2.63" height="3.73" fill="#fff"></rect><rect x="2.92" y="-2.03" width="2.54" height="3.73" fill="#fff"></rect></g>
<line x1="214.60" y1="472.80" x2="214.60" y2="611.70" stroke="#1e1e1e" stroke-width="1.35"></line>
<line x1="214.00" y1="609.50" x2="351.20" y2="609.50" stroke="#1e1e1e" stroke-width="1.3"></line>
<line x1="212.30" y1="609.50" x2="214.60" y2="609.50" stroke="#1e1e1e" stroke-width="1.1"></line>
<text transform="translate(210.70,614.40) scale(1,1.1)" font-size="15.3" text-anchor="end">0</text>
<line x1="212.30" y1="582.28" x2="214.60" y2="582.28" stroke="#1e1e1e" stroke-width="1.1"></line>
<text transform="translate(210.70,587.18) scale(1,1.1)" font-size="15.3" text-anchor="end">20</text>
<line x1="212.30" y1="555.06" x2="214.60" y2="555.06" stroke="#1e1e1e" stroke-width="1.1"></line>
<text transform="translate(210.70,559.96) scale(1,1.1)" font-size="15.3" text-anchor="end">40</text>
<line x1="212.30" y1="527.84" x2="214.60" y2="527.84" stroke="#1e1e1e" stroke-width="1.1"></line>
<text transform="translate(210.70,532.74) scale(1,1.1)" font-size="15.3" text-anchor="end">60</text>
<line x1="212.30" y1="500.62" x2="214.60" y2="500.62" stroke="#1e1e1e" stroke-width="1.1"></line>
<text transform="translate(210.70,505.52) scale(1,1.1)" font-size="15.3" text-anchor="end">80</text>
<line x1="212.30" y1="473.40" x2="214.60" y2="473.40" stroke="#1e1e1e" stroke-width="1.1"></line>
<g transform="translate(210.70,476.60) scale(1,1.1)"><text font-size="15.3" text-anchor="end">100</text><rect x="-25.04" y="-2.24" width="3.27" height="3.94" fill="#fff"></rect><rect x="-20.22" y="-2.24" width="3.15" height="3.94" fill="#fff"></rect></g>
<line x1="248.75" y1="609.50" x2="248.75" y2="611.70" stroke="#1e1e1e" stroke-width="1.1"></line>
<line x1="282.90" y1="609.50" x2="282.90" y2="611.70" stroke="#1e1e1e" stroke-width="1.1"></line>
<line x1="317.05" y1="609.50" x2="317.05" y2="611.70" stroke="#1e1e1e" stroke-width="1.1"></line>
<line x1="351.20" y1="609.50" x2="351.20" y2="611.70" stroke="#1e1e1e" stroke-width="1.1"></line>
<g transform="translate(229.60,626.60) scale(1,1.1)"><text font-size="15.3" text-anchor="middle">1</text><rect x="-3.78" y="-2.24" width="3.27" height="3.94" fill="#fff"></rect><rect x="1.05" y="-2.24" width="3.15" height="3.94" fill="#fff"></rect></g>
<g transform="translate(263.40,626.60) scale(1,1.1)"><text font-size="15.3" text-anchor="middle">0.1</text><rect x="2.60" y="-2.24" width="3.27" height="3.94" fill="#fff"></rect><rect x="7.42" y="-2.24" width="3.15" height="3.94" fill="#fff"></rect></g>
<g transform="translate(297.50,626.60) scale(1,1.1)"><text font-size="15.3" text-anchor="middle">0.01</text><rect x="6.85" y="-2.24" width="3.27" height="3.94" fill="#fff"></rect><rect x="11.67" y="-2.24" width="3.15" height="3.94" fill="#fff"></rect></g>
<g transform="translate(336.20,626.60) scale(1,1.1)"><text font-size="15.3" text-anchor="middle">0.001</text><rect x="11.09" y="-2.25" width="3.28" height="3.95" fill="#fff"></rect><rect x="15.93" y="-2.25" width="3.16" height="3.95" fill="#fff"></rect></g>
<path d="M232.30,534.92 C238.02,539.18 255.23,549.87 266.60,560.50 C277.97,571.14 289.20,590.70 300.50,598.75 C311.80,606.80 328.75,607.14 334.40,608.82" fill="none" stroke="#111" stroke-width="1.2"></path>
<rect x="228.70" y="531.32" width="7.2" height="7.2" fill="#fff" stroke="#111" stroke-width="1.15"></rect>
<rect x="263.00" y="556.90" width="7.2" height="7.2" fill="#fff" stroke="#111" stroke-width="1.15"></rect>
<rect x="296.90" y="595.15" width="7.2" height="7.2" fill="#fff" stroke="#111" stroke-width="1.15"></rect>
<path d="M232.30,594.53 C238.02,596.18 255.23,602.08 266.60,604.46 C277.97,606.85 289.20,608.07 300.50,608.82 C311.80,609.30 328.75,608.93 334.40,608.96" fill="none" stroke="#111" stroke-width="1.2"></path>
<polygon points="232.30,589.93 236.90,594.53 232.30,599.13 227.70,594.53" fill="#000"></polygon>
<polygon points="266.60,599.86 271.20,604.46 266.60,609.06 262.00,604.46" fill="#000"></polygon>
<polygon points="300.50,604.22 305.10,608.82 300.50,613.42 295.90,608.82" fill="#000"></polygon>
<polygon points="334.40,604.36 339.00,608.96 334.40,613.56 329.80,608.96" fill="#000"></polygon>
<path d="M232.30,594.53 C238.02,595.66 255.23,599.07 266.60,601.33 C277.97,603.60 289.20,606.89 300.50,608.14 C311.80,609.30 328.75,608.71 334.40,608.82" fill="none" stroke="#111" stroke-width="1.2"></path>
<circle cx="232.30" cy="594.53" r="4.3" fill="#000"></circle>
<circle cx="266.60" cy="601.33" r="4.3" fill="#000"></circle>
<circle cx="300.50" cy="608.14" r="4.3" fill="#000"></circle>
<circle cx="334.40" cy="608.82" r="4.3" fill="#000"></circle>
<g transform="translate(285.40,643.90) scale(1,1.1)"><text font-size="12.4" text-anchor="middle">NY-ESO-1 (µg/mL)</text><rect x="-1.01" y="-2.03" width="2.63" height="3.73" fill="#fff"></rect><rect x="2.92" y="-2.03" width="2.54" height="3.73" fill="#fff"></rect></g>
<line x1="379.50" y1="472.70" x2="379.50" y2="611.10" stroke="#1e1e1e" stroke-width="1.35"></line>
<line x1="378.90" y1="608.90" x2="516.10" y2="608.90" stroke="#1e1e1e" stroke-width="1.3"></line>
<line x1="377.20" y1="608.90" x2="379.50" y2="608.90" stroke="#1e1e1e" stroke-width="1.1"></line>
<text transform="translate(374.90,613.80) scale(1,1.1)" font-size="15.3" text-anchor="end">0</text>
<line x1="377.20" y1="581.78" x2="379.50" y2="581.78" stroke="#1e1e1e" stroke-width="1.1"></line>
<text transform="translate(374.90,586.68) scale(1,1.1)" font-size="15.3" text-anchor="end">20</text>
<line x1="377.20" y1="554.66" x2="379.50" y2="554.66" stroke="#1e1e1e" stroke-width="1.1"></line>
<text transform="translate(374.90,559.56) scale(1,1.1)" font-size="15.3" text-anchor="end">40</text>
<line x1="377.20" y1="527.54" x2="379.50" y2="527.54" stroke="#1e1e1e" stroke-width="1.1"></line>
<text transform="translate(374.90,532.44) scale(1,1.1)" font-size="15.3" text-anchor="end">60</text>
<line x1="377.20" y1="500.42" x2="379.50" y2="500.42" stroke="#1e1e1e" stroke-width="1.1"></line>
<text transform="translate(374.90,505.32) scale(1,1.1)" font-size="15.3" text-anchor="end">80</text>
<line x1="377.20" y1="473.30" x2="379.50" y2="473.30" stroke="#1e1e1e" stroke-width="1.1"></line>
<g transform="translate(374.90,476.50) scale(1,1.1)"><text font-size="15.3" text-anchor="end">100</text><rect x="-25.04" y="-2.24" width="3.27" height="3.94" fill="#fff"></rect><rect x="-20.22" y="-2.24" width="3.15" height="3.94" fill="#fff"></rect></g>
<line x1="413.65" y1="608.90" x2="413.65" y2="611.10" stroke="#1e1e1e" stroke-width="1.1"></line>
<line x1="447.80" y1="608.90" x2="447.80" y2="611.10" stroke="#1e1e1e" stroke-width="1.1"></line>
<line x1="481.95" y1="608.90" x2="481.95" y2="611.10" stroke="#1e1e1e" stroke-width="1.1"></line>
<line x1="516.10" y1="608.90" x2="516.10" y2="611.10" stroke="#1e1e1e" stroke-width="1.1"></line>
<g transform="translate(388.70,627.30) scale(1,1.1)"><text font-size="15.3" text-anchor="middle">1</text><rect x="-3.78" y="-2.24" width="3.27" height="3.94" fill="#fff"></rect><rect x="1.05" y="-2.24" width="3.15" height="3.94" fill="#fff"></rect></g>
<g transform="translate(422.70,627.30) scale(1,1.1)"><text font-size="15.3" text-anchor="middle">0.1</text><rect x="2.60" y="-2.24" width="3.27" height="3.94" fill="#fff"></rect><rect x="7.42" y="-2.24" width="3.15" height="3.94" fill="#fff"></rect></g>
<g transform="translate(456.50,627.30) scale(1,1.1)"><text font-size="15.3" text-anchor="middle">0.01</text><rect x="6.85" y="-2.24" width="3.27" height="3.94" fill="#fff"></rect><rect x="11.67" y="-2.24" width="3.15" height="3.94" fill="#fff"></rect></g>
<g transform="translate(496.20,627.30) scale(1,1.1)"><text font-size="15.3" text-anchor="middle">0.001</text><rect x="11.09" y="-2.25" width="3.28" height="3.95" fill="#fff"></rect><rect x="15.93" y="-2.25" width="3.16" height="3.95" fill="#fff"></rect></g>
<path d="M397.20,581.10 C402.87,585.08 419.83,600.40 431.20,604.97 C442.57,608.70 454.00,607.88 465.40,608.49 C476.80,608.70 493.90,608.61 499.60,608.63" fill="none" stroke="#111" stroke-width="1.2"></path>
<rect x="393.60" y="577.50" width="7.2" height="7.2" fill="#fff" stroke="#111" stroke-width="1.15"></rect>
<rect x="427.60" y="601.37" width="7.2" height="7.2" fill="#fff" stroke="#111" stroke-width="1.15"></rect>
<rect x="461.80" y="604.89" width="7.2" height="7.2" fill="#000" stroke="#111" stroke-width="1.15"></rect>
<path d="M397.20,608.49 C402.87,608.49 419.83,608.47 431.20,608.49 C442.57,608.52 454.00,608.61 465.40,608.63 C476.80,608.65 493.90,608.63 499.60,608.63" fill="none" stroke="#111" stroke-width="1.2"></path>
<polygon points="397.20,603.89 401.80,608.49 397.20,613.09 392.60,608.49" fill="#000"></polygon>
<polygon points="431.20,603.89 435.80,608.49 431.20,613.09 426.60,608.49" fill="#000"></polygon>
<polygon points="465.40,604.03 470.00,608.63 465.40,613.23 460.80,608.63" fill="#000"></polygon>
<polygon points="499.60,604.03 504.20,608.63 499.60,613.23 495.00,608.63" fill="#000"></polygon>
<path d="M397.20,608.09 C402.87,608.09 419.83,608.02 431.20,608.09 C442.57,608.15 454.00,608.43 465.40,608.49 C476.80,608.56 493.90,608.49 499.60,608.49" fill="none" stroke="#111" stroke-width="1.2"></path>
<circle cx="397.20" cy="608.09" r="4.3" fill="#000"></circle>
<circle cx="431.20" cy="608.09" r="4.3" fill="#000"></circle>
<circle cx="465.40" cy="608.49" r="4.3" fill="#000"></circle>
<circle cx="499.60" cy="608.49" r="4.3" fill="#000"></circle>
<g transform="translate(453.40,644.30) scale(1,1.1)"><text font-size="12.4" text-anchor="middle">NY-ESO-1 (µg/mL)</text><rect x="-1.01" y="-2.03" width="2.63" height="3.73" fill="#fff"></rect><rect x="2.92" y="-2.03" width="2.54" height="3.73" fill="#fff"></rect></g>
<text transform="translate(19.3,321.7) rotate(-90) scale(1.1,1)" font-size="11.15" text-anchor="middle">Percent IFN-γ<tspan font-size="7.5" dy="-4.5">+</tspan><tspan dy="4.5"> CD8</tspan><tspan font-size="7.5" dy="-4.5">+</tspan><tspan dy="4.5"> T cells</tspan></text>
<text transform="translate(12.6,536.3) rotate(-90) scale(1.1,1)" font-size="11.15" text-anchor="middle">Percent IFN-γ<tspan font-size="7.5" dy="-4.5">+</tspan><tspan dy="4.5"> CD4</tspan><tspan font-size="7.5" dy="-4.5">+</tspan><tspan dy="4.5"> T cells</tspan></text>
</svg>
</body></html>
